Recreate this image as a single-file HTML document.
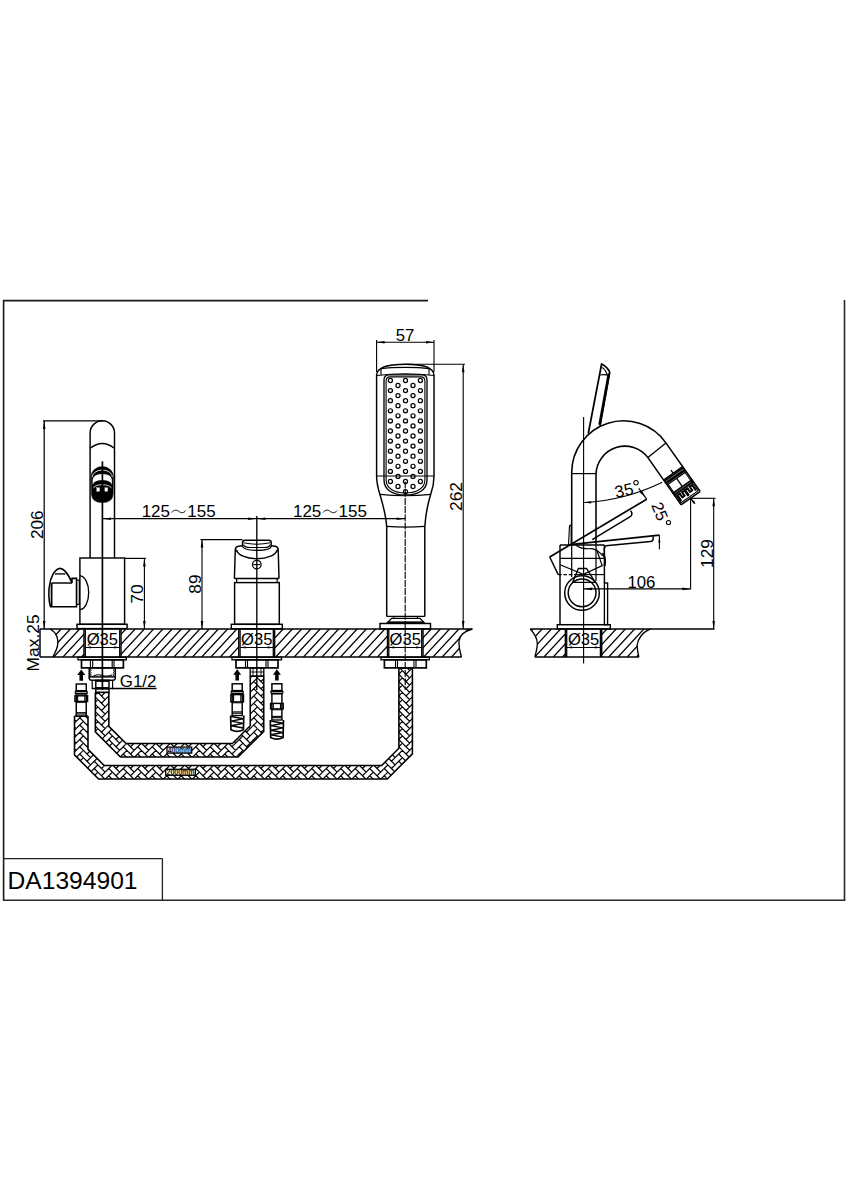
<!DOCTYPE html>
<html><head><meta charset="utf-8"><title>DA1394901</title><style>html,body{margin:0;padding:0;background:#fff;}body{width:848px;height:1200px;overflow:hidden;font-family:"Liberation Sans",sans-serif;}svg{display:block;}text{font-family:"Liberation Sans",sans-serif;}</style></head><body>
<svg width="848" height="1200" viewBox="0 0 848 1200" font-family="Liberation Sans, sans-serif" fill="#000"><defs><clipPath id="ct1"><path d="M50.4,629 C57,633 59,640 57.5,646 C56.5,651 54,654 53,657 L461.5,657 C460,652 458.6,647 459,641 C459.5,635 465,631 472.4,629 Z"/></clipPath>
<mask id="m1"><rect x="0" y="0" width="848" height="1200" fill="#fff"/><rect x="84" y="629.0" width="37" height="28.0" fill="#000"/><rect x="238.8" y="629.0" width="35.8" height="28.0" fill="#000"/><rect x="387.5" y="629.0" width="35.5" height="28.0" fill="#000"/></mask>
<clipPath id="ct2"><path d="M530.2,629 C534,633 537,638 537.3,643 C537.5,648 536,652 534.9,657 L638.9,657 C638,653 637,649 637.2,645 C637.5,640 642,632 650.4,629 Z"/></clipPath>
<mask id="m2"><rect x="0" y="0" width="848" height="1200" fill="#fff"/><rect x="565.4" y="629.0" width="36.3" height="28.0" fill="#000"/></mask>
<clipPath id="hs1"><path d="M95.35,692.4 L95.35,731.9 L108.85,726.3 L108.85,692.4 Z"/></clipPath>
<clipPath id="hs2"><path d="M95.35,731.9 L120.45,757 L126.05,743.5 L108.85,726.3 Z"/></clipPath>
<clipPath id="hs3"><path d="M120.45,757 L238.05,757 L232.45,743.5 L126.05,743.5 Z"/></clipPath>
<clipPath id="hs4"><path d="M238.05,757 L263.75,731.3 L250.25,725.7 L232.45,743.5 Z"/></clipPath>
<clipPath id="hs5"><path d="M263.75,731.3 L263.75,676.2 L250.25,676.2 L250.25,725.7 Z"/></clipPath>
<clipPath id="hs6"><path d="M74.5,716 L74.5,754.9 L88,749.3 L88,716 Z"/></clipPath>
<clipPath id="hs7"><path d="M74.5,754.9 L98.55,778.95 L104.15,765.45 L88,749.3 Z"/></clipPath>
<clipPath id="hs8"><path d="M98.55,778.95 L387.3,778.95 L381.7,765.45 L104.15,765.45 Z"/></clipPath>
<clipPath id="hs9"><path d="M387.3,778.95 L412.4,753.85 L398.9,748.25 L381.7,765.45 Z"/></clipPath>
<clipPath id="hs10"><path d="M412.4,753.85 L412.4,668.2 L398.9,668.2 L398.9,748.25 Z"/></clipPath></defs>
<line x1="3" y1="300.6" x2="428" y2="300.6" stroke="#1a1a1a" stroke-width="1.6" />
<line x1="3.6" y1="300" x2="3.6" y2="900.8" stroke="#1a1a1a" stroke-width="1.6" />
<line x1="3" y1="900.2" x2="845.3" y2="900.2" stroke="#2a2a2a" stroke-width="1.6" />
<line x1="844.5" y1="300" x2="844.5" y2="900.8" stroke="#2a2a2a" stroke-width="1.6" />
<line x1="3" y1="858.6" x2="162.6" y2="858.6" stroke="#222" stroke-width="1.3" />
<line x1="162.4" y1="858.6" x2="162.4" y2="900.5" stroke="#222" stroke-width="1.3" />
<text x="7.6" y="888.5" font-size="24.6" text-anchor="start" >DA1394901</text>
<g clip-path="url(#ct1)" mask="url(#m1)"><path d="M-1.75,657 L24.09,629 M7.5,657 L33.34,629 M16.75,657 L42.59,629 M26,657 L51.84,629 M35.25,657 L61.09,629 M44.5,657 L70.34,629 M53.75,657 L79.59,629 M63,657 L88.84,629 M72.25,657 L98.09,629 M81.5,657 L107.34,629 M90.75,657 L116.59,629 M100,657 L125.84,629 M109.25,657 L135.09,629 M118.5,657 L144.34,629 M127.75,657 L153.59,629 M137,657 L162.84,629 M146.25,657 L172.09,629 M155.5,657 L181.34,629 M164.75,657 L190.59,629 M174,657 L199.84,629 M183.25,657 L209.09,629 M192.5,657 L218.34,629 M201.75,657 L227.59,629 M211,657 L236.84,629 M220.25,657 L246.09,629 M229.5,657 L255.34,629 M238.75,657 L264.59,629 M248,657 L273.84,629 M257.25,657 L283.09,629 M266.5,657 L292.34,629 M275.75,657 L301.59,629 M285,657 L310.84,629 M294.25,657 L320.09,629 M303.5,657 L329.34,629 M312.75,657 L338.59,629 M322,657 L347.84,629 M331.25,657 L357.09,629 M340.5,657 L366.34,629 M349.75,657 L375.59,629 M359,657 L384.84,629 M368.25,657 L394.09,629 M377.5,657 L403.34,629 M386.75,657 L412.59,629 M396,657 L421.84,629 M405.25,657 L431.09,629 M414.5,657 L440.34,629 M423.75,657 L449.59,629 M433,657 L458.84,629 M442.25,657 L468.09,629 M451.5,657 L477.34,629 M460.75,657 L486.59,629 M470,657 L495.84,629 M479.25,657 L505.09,629 M488.5,657 L514.34,629 M497.75,657 L523.59,629" stroke="#000" stroke-width="1.25" fill="none"/></g>
<line x1="40" y1="629" x2="472.4" y2="629" stroke="#000" stroke-width="1.57" />
<line x1="40" y1="657" x2="461.5" y2="657" stroke="#000" stroke-width="1.57" />
<line x1="40" y1="629" x2="40" y2="657" stroke="#000" stroke-width="1.46" />
<path d="M50.4,629 C57,633 59,640 57.5,646 C56.5,651 54,654 53,657" fill="none" stroke="#000" stroke-width="1.34" />
<path d="M472.4,629 C465,631 459.5,635 459,641 C458.6,647 460,652 461.5,657" fill="none" stroke="#000" stroke-width="1.34" />
<line x1="84" y1="629" x2="84" y2="657" stroke="#000" stroke-width="1.46" />
<line x1="121" y1="629" x2="121" y2="657" stroke="#000" stroke-width="1.46" />
<line x1="238.8" y1="629" x2="238.8" y2="657" stroke="#000" stroke-width="1.46" />
<line x1="274.6" y1="629" x2="274.6" y2="657" stroke="#000" stroke-width="1.46" />
<line x1="387.5" y1="629" x2="387.5" y2="657" stroke="#000" stroke-width="1.46" />
<line x1="423" y1="629" x2="423" y2="657" stroke="#000" stroke-width="1.46" />
<g clip-path="url(#ct2)" mask="url(#m2)"><path d="M479.25,657 L505.09,629 M488.5,657 L514.34,629 M497.75,657 L523.59,629 M507,657 L532.84,629 M516.25,657 L542.09,629 M525.5,657 L551.34,629 M534.75,657 L560.59,629 M544,657 L569.84,629 M553.25,657 L579.09,629 M562.5,657 L588.34,629 M571.75,657 L597.59,629 M581,657 L606.84,629 M590.25,657 L616.09,629 M599.5,657 L625.34,629 M608.75,657 L634.59,629 M618,657 L643.84,629 M627.25,657 L653.09,629 M636.5,657 L662.34,629 M645.75,657 L671.59,629 M655,657 L680.84,629 M664.25,657 L690.09,629 M673.5,657 L699.34,629" stroke="#000" stroke-width="1.25" fill="none"/></g>
<line x1="530.2" y1="629" x2="714.5" y2="629" stroke="#000" stroke-width="1.46" />
<line x1="534.9" y1="657" x2="638.9" y2="657" stroke="#000" stroke-width="1.46" />
<path d="M530.2,629 C534,633 537,638 537.3,643 C537.5,648 536,652 534.9,657" fill="none" stroke="#000" stroke-width="1.34" />
<path d="M650.4,629 C642,632 637.5,640 637.2,645 C637,649 638,653 638.9,657" fill="none" stroke="#000" stroke-width="1.34" />
<line x1="565.4" y1="629" x2="565.4" y2="657" stroke="#000" stroke-width="1.46" />
<line x1="601.7" y1="629" x2="601.7" y2="657" stroke="#000" stroke-width="1.46" />
<line x1="85.3" y1="629" x2="85.3" y2="657" stroke="#000" stroke-width="1.29" />
<line x1="119.7" y1="629" x2="119.7" y2="657" stroke="#000" stroke-width="1.29" />
<text x="102.4" y="644.6" font-size="16.6" text-anchor="middle" >&#216;35</text>
<line x1="85.3" y1="647.4" x2="119.7" y2="647.4" stroke="#000" stroke-width="1.01" />
<path d="M85.8,647.4 L90.8,646.3 L90.8,648.5 Z" fill="#000" stroke="none"/>
<path d="M119.2,647.4 L114.2,648.5 L114.2,646.3 Z" fill="#000" stroke="none"/>
<line x1="240.1" y1="629" x2="240.1" y2="657" stroke="#000" stroke-width="1.29" />
<line x1="273.3" y1="629" x2="273.3" y2="657" stroke="#000" stroke-width="1.29" />
<text x="256.8" y="644.6" font-size="16.6" text-anchor="middle" >&#216;35</text>
<line x1="240.1" y1="647.4" x2="273.3" y2="647.4" stroke="#000" stroke-width="1.01" />
<path d="M240.6,647.4 L245.6,646.3 L245.6,648.5 Z" fill="#000" stroke="none"/>
<path d="M272.8,647.4 L267.8,648.5 L267.8,646.3 Z" fill="#000" stroke="none"/>
<line x1="388.8" y1="629" x2="388.8" y2="657" stroke="#000" stroke-width="1.29" />
<line x1="421.7" y1="629" x2="421.7" y2="657" stroke="#000" stroke-width="1.29" />
<text x="405.2" y="644.6" font-size="16.6" text-anchor="middle" >&#216;35</text>
<line x1="388.8" y1="647.4" x2="421.7" y2="647.4" stroke="#000" stroke-width="1.01" />
<path d="M389.3,647.4 L394.3,646.3 L394.3,648.5 Z" fill="#000" stroke="none"/>
<path d="M421.2,647.4 L416.2,648.5 L416.2,646.3 Z" fill="#000" stroke="none"/>
<line x1="566.7" y1="629" x2="566.7" y2="657" stroke="#000" stroke-width="1.29" />
<line x1="600.4" y1="629" x2="600.4" y2="657" stroke="#000" stroke-width="1.29" />
<text x="583.6" y="644.6" font-size="16.6" text-anchor="middle" >&#216;35</text>
<line x1="566.7" y1="647.4" x2="600.4" y2="647.4" stroke="#000" stroke-width="1.01" />
<path d="M567.2,647.4 L572.2,646.3 L572.2,648.5 Z" fill="#000" stroke="none"/>
<path d="M599.9,647.4 L594.9,648.5 L594.9,646.3 Z" fill="#000" stroke="none"/>
<path d="M90.1,558 V433 A12.2,12.2 0 0 1 114.5,433 V558" fill="none" stroke="#000" stroke-width="1.46" />
<path d="M90.1,448.3 Q102.3,438.6 114.5,448.3" fill="none" stroke="#000" stroke-width="1.34" />
<path d="M91.2,476.5 A11.1,10 0 0 1 113.4,476.5 L113.1,494 Q112.8,502.6 102.3,502.6 Q91.8,502.6 91.5,494 Z" fill="#000" stroke="#000" stroke-width="0.56" />
<path d="M92.2,477.2 A10.1,7.2 0 0 1 112.4,477.2" fill="none" stroke="#fff" stroke-width="0.84" />
<path d="M92.8,479.8 Q93.5,474.2 102.3,474.0 Q111.1,474.2 111.8,479.8 L111.8,484.2 Q110.5,480.2 102.3,480.0 Q94.1,480.2 92.8,484.2 Z" fill="#fff" stroke="#fff" stroke-width="0.22" />
<path d="M93.4,488.2 Q94.5,484.9 102.3,484.7 Q110.1,484.9 111.2,488.2" fill="none" stroke="#fff" stroke-width="0.78" />
<rect x="96.8" y="487.8" width="2.8" height="3.5" fill="#fff" stroke="#fff" stroke-width="0.34"/>
<rect x="104.9" y="487.8" width="2.8" height="3.5" fill="#fff" stroke="#fff" stroke-width="0.34"/>
<line x1="102.4" y1="461.3" x2="102.4" y2="690" stroke="#000" stroke-width="1.68" />
<rect x="79.9" y="558" width="44.7" height="66.3" fill="none" stroke="#000" stroke-width="1.46"/>
<rect x="77" y="624.3" width="50.1" height="4.3" fill="none" stroke="#000" stroke-width="1.46"/>
<path d="M79.9,575.9 A8.8,16.8 0 0 1 79.9,609.5" fill="none" stroke="#000" stroke-width="1.34" />
<rect x="76.5" y="580.1" width="2.8" height="24.3" fill="none" stroke="#000" stroke-width="1.23"/>
<path d="M72,583 L72,578.4 L76.5,578.4 L76.5,606.7 L50.5,606.7 C48.5,600 48.3,590 49.7,584.6 C50.5,578 54,570 59.3,568.5 C63,567.5 68,573 72,583 Z" fill="#fff" stroke="#000" stroke-width="1.57" />
<line x1="51.6" y1="583" x2="72" y2="583" stroke="#000" stroke-width="1.46" />
<line x1="54.8" y1="573.9" x2="65.5" y2="573.9" stroke="#000" stroke-width="1.34" />
<line x1="51.6" y1="583" x2="51.6" y2="606.7" stroke="#000" stroke-width="1.79" />
<line x1="44.2" y1="421" x2="44.2" y2="629" stroke="#000" stroke-width="1.23" />
<path d="M44.2,421 L45.5,429 L42.9,429 Z" fill="#000" stroke="none"/>
<path d="M44.2,629 L42.9,621 L45.5,621 Z" fill="#000" stroke="none"/>
<line x1="43" y1="420.9" x2="103" y2="420.9" stroke="#000" stroke-width="1.23" />
<text x="43" y="524.7" font-size="17.2" text-anchor="middle" transform="rotate(-90 43 524.7)" >206</text>
<text x="38.8" y="642.9" font-size="17.4" text-anchor="middle" transform="rotate(-90 38.8 642.9)" >Max.25</text>
<line x1="124.6" y1="558.4" x2="146" y2="558.4" stroke="#000" stroke-width="1.23" />
<line x1="144.4" y1="558.4" x2="144.4" y2="629" stroke="#000" stroke-width="1.12" />
<path d="M144.4,558.4 L145.7,566.4 L143.1,566.4 Z" fill="#000" stroke="none"/>
<path d="M144.4,629 L143.1,621 L145.7,621 Z" fill="#000" stroke="none"/>
<text x="142.6" y="594" font-size="17.4" text-anchor="middle" transform="rotate(-90 142.6 594)" >70</text>
<line x1="102.4" y1="518.7" x2="405.2" y2="518.7" stroke="#000" stroke-width="1.23" />
<path d="M103,518.7 L111,517.4 L111,520 Z" fill="#000" stroke="none"/>
<path d="M256.2,518.7 L248.2,520 L248.2,517.4 Z" fill="#000" stroke="none"/>
<path d="M257.4,518.7 L265.4,517.4 L265.4,520 Z" fill="#000" stroke="none"/>
<path d="M404.6,518.7 L396.6,520 L396.6,517.4 Z" fill="#000" stroke="none"/>
<text x="170" y="516.6" font-size="17" text-anchor="end" >125</text>
<path d="M171.8,512.5 C173.9,509.5 176.9,509.7 178.8,511.3 C180.7,513.1 183.7,513.5 185.7,510.5" fill="none" stroke="#000" stroke-width="0.95" />
<text x="187.25" y="516.6" font-size="17" text-anchor="start" >155</text>
<text x="321.3" y="516.6" font-size="17" text-anchor="end" >125</text>
<path d="M323.1,512.5 C325.2,509.5 328.2,509.7 330.1,511.3 C332,513.1 335,513.5 337,510.5" fill="none" stroke="#000" stroke-width="0.95" />
<text x="338.55" y="516.6" font-size="17" text-anchor="start" >155</text>
<line x1="256.8" y1="516" x2="256.8" y2="690" stroke="#000" stroke-width="1.34" />
<path d="M242.5,546 L242.5,542.6 Q242.5,540.3 245,540.3 L268.8,540.3 Q271.2,540.3 271.2,542.6 L271.2,546" fill="none" stroke="#000" stroke-width="1.46" />
<path d="M243.6,542.8 Q257,545.6 270.2,542.8" fill="none" stroke="#000" stroke-width="1.12" />
<path d="M243.6,544.6 Q244,547.4 250,547.5 L264,547.5 Q270,547.4 270.2,544.6" fill="none" stroke="#000" stroke-width="1.23" />
<path d="M242.5,546 Q243,550.3 257,550.4 Q271,550.3 271.2,546" fill="none" stroke="#000" stroke-width="1.23" />
<path d="M234.4,578.4 L235.3,549.6 Q235.5,546.7 238.5,546.3 L242.5,545.7" fill="none" stroke="#000" stroke-width="1.46" />
<path d="M279.0,578.4 L278.2,549.6 Q278.0,546.7 275.2,546.3 L271.2,545.7" fill="none" stroke="#000" stroke-width="1.46" />
<line x1="235.6" y1="549.6" x2="237.6" y2="552.2" stroke="#000" stroke-width="1.12" />
<line x1="277.9" y1="549.6" x2="275.9" y2="552.2" stroke="#000" stroke-width="1.12" />
<path d="M236.6,549.8 A20.3,9.6 0 0 0 277.1,549.8" fill="none" stroke="#000" stroke-width="1.34" />
<circle cx="256.8" cy="564.6" r="4.3" fill="none" stroke="#000" stroke-width="1.23"/>
<line x1="253.4" y1="564.6" x2="260.2" y2="564.6" stroke="#000" stroke-width="1.12" />
<line x1="234.4" y1="578.4" x2="279" y2="578.4" stroke="#000" stroke-width="1.46" />
<line x1="236.6" y1="578.4" x2="236.6" y2="582.6" stroke="#000" stroke-width="1.23" />
<line x1="277.1" y1="578.4" x2="277.1" y2="582.6" stroke="#000" stroke-width="1.23" />
<rect x="234.6" y="582.6" width="44.7" height="41.7" fill="none" stroke="#000" stroke-width="1.46"/>
<rect x="231.3" y="624.3" width="51" height="4.5" fill="none" stroke="#000" stroke-width="1.46"/>
<line x1="200.5" y1="539.6" x2="242.5" y2="539.6" stroke="#000" stroke-width="1.12" />
<line x1="202" y1="539.6" x2="202" y2="629" stroke="#000" stroke-width="1.12" />
<path d="M202,539.6 L203.3,547.6 L200.7,547.6 Z" fill="#000" stroke="none"/>
<path d="M202,629 L200.7,621 L203.3,621 Z" fill="#000" stroke="none"/>
<text x="200.9" y="584" font-size="17.4" text-anchor="middle" transform="rotate(-90 200.9 584)" >89</text>
<path d="M386.7,616.5 L386.7,527 C386,515 382.5,503 379.8,494 C377.6,487 376.6,482 376.6,476 L376.6,375 C377,367.5 386,364.2 405.3,364.2 C424.6,364.2 433.6,367.5 434,375 L434,476 C434,482 433,488 430.8,494 C428,503 425.5,515 424.8,527 L424.8,616.5" fill="none" stroke="#000" stroke-width="1.46" />
<path d="M380,369 C386,366.8 424,366.8 430,369" fill="none" stroke="#000" stroke-width="1.12" />
<line x1="381" y1="368" x2="381" y2="375" stroke="#000" stroke-width="1.12" />
<line x1="429" y1="368" x2="429" y2="375" stroke="#000" stroke-width="1.12" />
<path d="M376.6,375.5 Q405,372 434,375.5" fill="none" stroke="#000" stroke-width="1.12" />
<path d="M384,380 Q384,374.8 389,374.8 L422,374.8 Q427,374.8 427,380 L427,480 C427,490 418,495 405.5,495 C393,495 384,490 384,480 Z" fill="none" stroke="#000" stroke-width="1.34" />
<path d="M386.1,381 Q386.1,376.9 390,376.9 L421,376.9 Q424.9,376.9 424.9,381 L424.9,480 C424.9,488 417,493 405.5,493 C394,493 386.1,488 386.1,480 Z" fill="none" stroke="#000" stroke-width="1.12" />
<line x1="376.6" y1="476" x2="434" y2="476" stroke="#000" stroke-width="1.23" />
<circle cx="390.4" cy="380.5" r="2.05" fill="none" stroke="#000" stroke-width="1.23"/>
<circle cx="390.4" cy="390.6" r="2.05" fill="none" stroke="#000" stroke-width="1.23"/>
<circle cx="390.4" cy="400.7" r="2.05" fill="none" stroke="#000" stroke-width="1.23"/>
<circle cx="390.4" cy="410.8" r="2.05" fill="none" stroke="#000" stroke-width="1.23"/>
<circle cx="390.4" cy="420.9" r="2.05" fill="none" stroke="#000" stroke-width="1.23"/>
<circle cx="390.4" cy="431" r="2.05" fill="none" stroke="#000" stroke-width="1.23"/>
<circle cx="390.4" cy="441.1" r="2.05" fill="none" stroke="#000" stroke-width="1.23"/>
<circle cx="390.4" cy="451.2" r="2.05" fill="none" stroke="#000" stroke-width="1.23"/>
<circle cx="390.4" cy="461.3" r="2.05" fill="none" stroke="#000" stroke-width="1.23"/>
<circle cx="390.4" cy="471.4" r="2.05" fill="none" stroke="#000" stroke-width="1.23"/>
<circle cx="390.4" cy="481.5" r="2.05" fill="none" stroke="#000" stroke-width="1.23"/>
<circle cx="398" cy="385.5" r="2.05" fill="none" stroke="#000" stroke-width="1.23"/>
<circle cx="398" cy="395.6" r="2.05" fill="none" stroke="#000" stroke-width="1.23"/>
<circle cx="398" cy="405.7" r="2.05" fill="none" stroke="#000" stroke-width="1.23"/>
<circle cx="398" cy="415.8" r="2.05" fill="none" stroke="#000" stroke-width="1.23"/>
<circle cx="398" cy="425.9" r="2.05" fill="none" stroke="#000" stroke-width="1.23"/>
<circle cx="398" cy="436" r="2.05" fill="none" stroke="#000" stroke-width="1.23"/>
<circle cx="398" cy="446.1" r="2.05" fill="none" stroke="#000" stroke-width="1.23"/>
<circle cx="398" cy="456.2" r="2.05" fill="none" stroke="#000" stroke-width="1.23"/>
<circle cx="398" cy="466.3" r="2.05" fill="none" stroke="#000" stroke-width="1.23"/>
<circle cx="398" cy="476.4" r="2.05" fill="none" stroke="#000" stroke-width="1.23"/>
<circle cx="398" cy="486.5" r="2.05" fill="none" stroke="#000" stroke-width="1.23"/>
<circle cx="405.5" cy="380.5" r="2.05" fill="none" stroke="#000" stroke-width="1.23"/>
<circle cx="405.5" cy="390.6" r="2.05" fill="none" stroke="#000" stroke-width="1.23"/>
<circle cx="405.5" cy="400.7" r="2.05" fill="none" stroke="#000" stroke-width="1.23"/>
<circle cx="405.5" cy="410.8" r="2.05" fill="none" stroke="#000" stroke-width="1.23"/>
<circle cx="405.5" cy="420.9" r="2.05" fill="none" stroke="#000" stroke-width="1.23"/>
<circle cx="405.5" cy="431" r="2.05" fill="none" stroke="#000" stroke-width="1.23"/>
<circle cx="405.5" cy="441.1" r="2.05" fill="none" stroke="#000" stroke-width="1.23"/>
<circle cx="405.5" cy="451.2" r="2.05" fill="none" stroke="#000" stroke-width="1.23"/>
<circle cx="405.5" cy="461.3" r="2.05" fill="none" stroke="#000" stroke-width="1.23"/>
<circle cx="405.5" cy="471.4" r="2.05" fill="none" stroke="#000" stroke-width="1.23"/>
<circle cx="405.5" cy="481.5" r="2.05" fill="none" stroke="#000" stroke-width="1.23"/>
<circle cx="405.5" cy="491.6" r="2.05" fill="none" stroke="#000" stroke-width="1.23"/>
<circle cx="413" cy="385.5" r="2.05" fill="none" stroke="#000" stroke-width="1.23"/>
<circle cx="413" cy="395.6" r="2.05" fill="none" stroke="#000" stroke-width="1.23"/>
<circle cx="413" cy="405.7" r="2.05" fill="none" stroke="#000" stroke-width="1.23"/>
<circle cx="413" cy="415.8" r="2.05" fill="none" stroke="#000" stroke-width="1.23"/>
<circle cx="413" cy="425.9" r="2.05" fill="none" stroke="#000" stroke-width="1.23"/>
<circle cx="413" cy="436" r="2.05" fill="none" stroke="#000" stroke-width="1.23"/>
<circle cx="413" cy="446.1" r="2.05" fill="none" stroke="#000" stroke-width="1.23"/>
<circle cx="413" cy="456.2" r="2.05" fill="none" stroke="#000" stroke-width="1.23"/>
<circle cx="413" cy="466.3" r="2.05" fill="none" stroke="#000" stroke-width="1.23"/>
<circle cx="413" cy="476.4" r="2.05" fill="none" stroke="#000" stroke-width="1.23"/>
<circle cx="413" cy="486.5" r="2.05" fill="none" stroke="#000" stroke-width="1.23"/>
<circle cx="420.4" cy="380.5" r="2.05" fill="none" stroke="#000" stroke-width="1.23"/>
<circle cx="420.4" cy="390.6" r="2.05" fill="none" stroke="#000" stroke-width="1.23"/>
<circle cx="420.4" cy="400.7" r="2.05" fill="none" stroke="#000" stroke-width="1.23"/>
<circle cx="420.4" cy="410.8" r="2.05" fill="none" stroke="#000" stroke-width="1.23"/>
<circle cx="420.4" cy="420.9" r="2.05" fill="none" stroke="#000" stroke-width="1.23"/>
<circle cx="420.4" cy="431" r="2.05" fill="none" stroke="#000" stroke-width="1.23"/>
<circle cx="420.4" cy="441.1" r="2.05" fill="none" stroke="#000" stroke-width="1.23"/>
<circle cx="420.4" cy="451.2" r="2.05" fill="none" stroke="#000" stroke-width="1.23"/>
<circle cx="420.4" cy="461.3" r="2.05" fill="none" stroke="#000" stroke-width="1.23"/>
<circle cx="420.4" cy="471.4" r="2.05" fill="none" stroke="#000" stroke-width="1.23"/>
<circle cx="420.4" cy="481.5" r="2.05" fill="none" stroke="#000" stroke-width="1.23"/>
<path d="M379.8,494.3 Q405.3,497.2 430.8,494.3" fill="none" stroke="#000" stroke-width="1.23" />
<path d="M386.7,526.4 Q405.7,528 424.8,526.4" fill="none" stroke="#000" stroke-width="1.23" />
<line x1="386.7" y1="616.3" x2="424.8" y2="616.3" stroke="#000" stroke-width="1.34" />
<path d="M393.8,616.3 L393.8,618.2 M417.5,616.3 L417.5,618.2" fill="none" stroke="#000" stroke-width="1.12" />
<path d="M391.6,618.3 L420.0,618.3 L423.8,622.4 L387.7,622.4 Z" fill="none" stroke="#000" stroke-width="1.34" />
<line x1="387.7" y1="622.6" x2="423.8" y2="622.6" stroke="#000" stroke-width="2.24" />
<rect x="380" y="623.5" width="50.5" height="5.3" fill="none" stroke="#000" stroke-width="1.46"/>
<line x1="405.2" y1="481.5" x2="405.2" y2="690" stroke="#000" stroke-width="1.12" stroke-dasharray="7 1.2"/>
<line x1="376.6" y1="340" x2="376.6" y2="372" stroke="#000" stroke-width="1.12" />
<line x1="434" y1="340" x2="434" y2="372" stroke="#000" stroke-width="1.12" />
<line x1="376.6" y1="342.2" x2="434" y2="342.2" stroke="#000" stroke-width="1.12" />
<path d="M376.6,342.2 L384.6,340.9 L384.6,343.5 Z" fill="#000" stroke="none"/>
<path d="M434,342.2 L426,343.5 L426,340.9 Z" fill="#000" stroke="none"/>
<text x="405" y="341" font-size="16.8" text-anchor="middle" >57</text>
<line x1="405" y1="364.3" x2="465" y2="364.3" stroke="#000" stroke-width="1.12" />
<line x1="463.2" y1="364.3" x2="463.2" y2="629" stroke="#000" stroke-width="1.12" />
<path d="M463.2,364.3 L464.5,372.3 L461.9,372.3 Z" fill="#000" stroke="none"/>
<path d="M463.2,629 L461.9,621 L464.5,621 Z" fill="#000" stroke="none"/>
<text x="462.1" y="496.5" font-size="17.4" text-anchor="middle" transform="rotate(-90 462.1 496.5)" >262</text>
<g clip-path="url(#hs1)"><path d="M90.62,743.12 L94.25,739.5 M90.62,735.88 L94.25,732.25 M94.25,732.25 L97.88,735.88 M94.25,739.5 L97.88,735.88 M97.88,735.88 L101.5,739.5 M90.62,728.62 L94.25,725 M94.25,725 L97.88,728.62 M94.25,732.25 L97.88,728.62 M97.88,728.62 L101.5,732.25 M101.5,732.25 L105.12,735.88 M101.5,739.5 L105.12,735.88 M105.12,743.12 L108.75,739.5 M90.62,721.38 L94.25,717.75 M94.25,717.75 L97.88,721.38 M94.25,725 L97.88,721.38 M97.88,721.38 L101.5,725 M101.5,725 L105.12,728.62 M101.5,732.25 L105.12,728.62 M105.12,735.88 L108.75,732.25 M108.75,732.25 L112.38,735.88 M108.75,739.5 L112.38,735.88 M112.38,735.88 L116,739.5 M90.62,714.12 L94.25,710.5 M94.25,710.5 L97.88,714.12 M94.25,717.75 L97.88,714.12 M97.88,714.12 L101.5,717.75 M101.5,717.75 L105.12,721.38 M101.5,725 L105.12,721.38 M105.12,728.62 L108.75,725 M108.75,725 L112.38,728.62 M108.75,732.25 L112.38,728.62 M112.38,728.62 L116,732.25 M116,732.25 L119.62,735.88 M116,739.5 L119.62,735.88 M90.62,706.88 L94.25,703.25 M94.25,703.25 L97.88,706.88 M94.25,710.5 L97.88,706.88 M97.88,706.88 L101.5,710.5 M101.5,710.5 L105.12,714.12 M101.5,717.75 L105.12,714.12 M105.12,721.38 L108.75,717.75 M108.75,717.75 L112.38,721.38 M108.75,725 L112.38,721.38 M112.38,721.38 L116,725 M116,725 L119.62,728.62 M116,732.25 L119.62,728.62 M90.62,699.62 L94.25,696 M94.25,696 L97.88,699.62 M94.25,703.25 L97.88,699.62 M97.88,699.62 L101.5,703.25 M101.5,703.25 L105.12,706.88 M101.5,710.5 L105.12,706.88 M105.12,714.12 L108.75,710.5 M108.75,710.5 L112.38,714.12 M108.75,717.75 L112.38,714.12 M112.38,714.12 L116,717.75 M116,717.75 L119.62,721.38 M116,725 L119.62,721.38 M90.62,692.38 L94.25,688.75 M94.25,688.75 L97.88,692.38 M94.25,696 L97.88,692.38 M97.88,692.38 L101.5,696 M101.5,696 L105.12,699.62 M101.5,703.25 L105.12,699.62 M105.12,706.88 L108.75,703.25 M108.75,703.25 L112.38,706.88 M108.75,710.5 L112.38,706.88 M112.38,706.88 L116,710.5 M116,710.5 L119.62,714.12 M116,717.75 L119.62,714.12 M94.25,681.5 L97.88,685.12 M94.25,688.75 L97.88,685.12 M97.88,685.12 L101.5,688.75 M101.5,688.75 L105.12,692.38 M101.5,696 L105.12,692.38 M105.12,699.62 L108.75,696 M108.75,696 L112.38,699.62 M108.75,703.25 L112.38,699.62 M112.38,699.62 L116,703.25 M116,703.25 L119.62,706.88 M116,710.5 L119.62,706.88 M101.5,681.5 L105.12,685.12 M101.5,688.75 L105.12,685.12 M105.12,692.38 L108.75,688.75 M108.75,688.75 L112.38,692.38 M108.75,696 L112.38,692.38 M112.38,692.38 L116,696 M116,696 L119.62,699.62 M116,703.25 L119.62,699.62 M108.75,681.5 L112.38,685.12 M108.75,688.75 L112.38,685.12 M112.38,685.12 L116,688.75 M116,688.75 L119.62,692.38 M116,696 L119.62,692.38 M116,681.5 L119.62,685.12 M116,688.75 L119.62,685.12" stroke="#000" stroke-width="1.2" fill="none"/></g>
<g clip-path="url(#hs2)"><path d="M90.62,764.88 L94.25,761.25 M94.25,761.25 L97.88,764.88 M94.25,768.5 L97.88,764.88 M90.62,757.62 L94.25,754 M94.25,754 L97.88,757.62 M94.25,761.25 L97.88,757.62 M97.88,757.62 L101.5,761.25 M101.5,761.25 L105.12,764.88 M101.5,768.5 L105.12,764.88 M90.62,750.38 L94.25,746.75 M94.25,746.75 L97.88,750.38 M94.25,754 L97.88,750.38 M97.88,750.38 L101.5,754 M101.5,754 L105.12,757.62 M101.5,761.25 L105.12,757.62 M105.12,764.88 L108.75,761.25 M108.75,761.25 L112.38,764.88 M108.75,768.5 L112.38,764.88 M90.62,743.12 L94.25,739.5 M94.25,739.5 L97.88,743.12 M94.25,746.75 L97.88,743.12 M97.88,743.12 L101.5,746.75 M101.5,746.75 L105.12,750.38 M101.5,754 L105.12,750.38 M105.12,757.62 L108.75,754 M108.75,754 L112.38,757.62 M108.75,761.25 L112.38,757.62 M112.38,757.62 L116,761.25 M116,761.25 L119.62,764.88 M116,768.5 L119.62,764.88 M90.62,735.88 L94.25,732.25 M94.25,732.25 L97.88,735.88 M94.25,739.5 L97.88,735.88 M97.88,735.88 L101.5,739.5 M101.5,739.5 L105.12,743.12 M101.5,746.75 L105.12,743.12 M105.12,750.38 L108.75,746.75 M108.75,746.75 L112.38,750.38 M108.75,754 L112.38,750.38 M112.38,750.38 L116,754 M116,754 L119.62,757.62 M116,761.25 L119.62,757.62 M119.62,764.88 L123.25,761.25 M123.25,761.25 L126.88,764.88 M123.25,768.5 L126.88,764.88 M90.62,728.62 L94.25,725 M94.25,725 L97.88,728.62 M94.25,732.25 L97.88,728.62 M97.88,728.62 L101.5,732.25 M101.5,732.25 L105.12,735.88 M101.5,739.5 L105.12,735.88 M105.12,743.12 L108.75,739.5 M108.75,739.5 L112.38,743.12 M108.75,746.75 L112.38,743.12 M112.38,743.12 L116,746.75 M116,746.75 L119.62,750.38 M116,754 L119.62,750.38 M119.62,757.62 L123.25,754 M123.25,754 L126.88,757.62 M123.25,761.25 L126.88,757.62 M126.88,757.62 L130.5,761.25 M130.5,761.25 L134.12,764.88 M130.5,768.5 L134.12,764.88 M94.25,717.75 L97.88,721.38 M94.25,725 L97.88,721.38 M97.88,721.38 L101.5,725 M101.5,725 L105.12,728.62 M101.5,732.25 L105.12,728.62 M105.12,735.88 L108.75,732.25 M108.75,732.25 L112.38,735.88 M108.75,739.5 L112.38,735.88 M112.38,735.88 L116,739.5 M116,739.5 L119.62,743.12 M116,746.75 L119.62,743.12 M119.62,750.38 L123.25,746.75 M123.25,746.75 L126.88,750.38 M123.25,754 L126.88,750.38 M126.88,750.38 L130.5,754 M130.5,754 L134.12,757.62 M130.5,761.25 L134.12,757.62 M101.5,717.75 L105.12,721.38 M101.5,725 L105.12,721.38 M105.12,728.62 L108.75,725 M108.75,725 L112.38,728.62 M108.75,732.25 L112.38,728.62 M112.38,728.62 L116,732.25 M116,732.25 L119.62,735.88 M116,739.5 L119.62,735.88 M119.62,743.12 L123.25,739.5 M123.25,739.5 L126.88,743.12 M123.25,746.75 L126.88,743.12 M126.88,743.12 L130.5,746.75 M130.5,746.75 L134.12,750.38 M130.5,754 L134.12,750.38 M108.75,717.75 L112.38,721.38 M108.75,725 L112.38,721.38 M112.38,721.38 L116,725 M116,725 L119.62,728.62 M116,732.25 L119.62,728.62 M119.62,735.88 L123.25,732.25 M123.25,732.25 L126.88,735.88 M123.25,739.5 L126.88,735.88 M126.88,735.88 L130.5,739.5 M130.5,739.5 L134.12,743.12 M130.5,746.75 L134.12,743.12 M116,717.75 L119.62,721.38 M116,725 L119.62,721.38 M119.62,728.62 L123.25,725 M123.25,725 L126.88,728.62 M123.25,732.25 L126.88,728.62 M126.88,728.62 L130.5,732.25 M130.5,732.25 L134.12,735.88 M130.5,739.5 L134.12,735.88 M123.25,717.75 L126.88,721.38 M123.25,725 L126.88,721.38 M126.88,721.38 L130.5,725 M130.5,725 L134.12,728.62 M130.5,732.25 L134.12,728.62 M130.5,717.75 L134.12,721.38 M130.5,725 L134.12,721.38" stroke="#000" stroke-width="1.2" fill="none"/></g>
<g clip-path="url(#hs3)"><path d="M116,761.25 L119.62,764.88 M116,768.5 L119.62,764.88 M116,754 L119.62,757.62 M116,761.25 L119.62,757.62 M119.62,764.88 L123.25,761.25 M123.25,761.25 L126.88,764.88 M123.25,768.5 L126.88,764.88 M116,746.75 L119.62,750.38 M116,754 L119.62,750.38 M119.62,757.62 L123.25,754 M123.25,754 L126.88,757.62 M123.25,761.25 L126.88,757.62 M126.88,757.62 L130.5,761.25 M130.5,761.25 L134.12,764.88 M130.5,768.5 L134.12,764.88 M116,739.5 L119.62,743.12 M116,746.75 L119.62,743.12 M119.62,750.38 L123.25,746.75 M123.25,746.75 L126.88,750.38 M123.25,754 L126.88,750.38 M126.88,750.38 L130.5,754 M130.5,754 L134.12,757.62 M130.5,761.25 L134.12,757.62 M134.12,764.88 L137.75,761.25 M137.75,761.25 L141.38,764.88 M137.75,768.5 L141.38,764.88 M116,732.25 L119.62,735.88 M116,739.5 L119.62,735.88 M119.62,743.12 L123.25,739.5 M123.25,739.5 L126.88,743.12 M123.25,746.75 L126.88,743.12 M126.88,743.12 L130.5,746.75 M130.5,746.75 L134.12,750.38 M130.5,754 L134.12,750.38 M134.12,757.62 L137.75,754 M137.75,754 L141.38,757.62 M137.75,761.25 L141.38,757.62 M141.38,757.62 L145,761.25 M145,761.25 L148.62,764.88 M145,768.5 L148.62,764.88 M123.25,732.25 L126.88,735.88 M123.25,739.5 L126.88,735.88 M126.88,735.88 L130.5,739.5 M130.5,739.5 L134.12,743.12 M130.5,746.75 L134.12,743.12 M134.12,750.38 L137.75,746.75 M137.75,746.75 L141.38,750.38 M137.75,754 L141.38,750.38 M141.38,750.38 L145,754 M145,754 L148.62,757.62 M145,761.25 L148.62,757.62 M148.62,764.88 L152.25,761.25 M152.25,761.25 L155.88,764.88 M152.25,768.5 L155.88,764.88 M130.5,732.25 L134.12,735.88 M130.5,739.5 L134.12,735.88 M134.12,743.12 L137.75,739.5 M137.75,739.5 L141.38,743.12 M137.75,746.75 L141.38,743.12 M141.38,743.12 L145,746.75 M145,746.75 L148.62,750.38 M145,754 L148.62,750.38 M148.62,757.62 L152.25,754 M152.25,754 L155.88,757.62 M152.25,761.25 L155.88,757.62 M155.88,757.62 L159.5,761.25 M159.5,761.25 L163.12,764.88 M159.5,768.5 L163.12,764.88 M137.75,732.25 L141.38,735.88 M137.75,739.5 L141.38,735.88 M141.38,735.88 L145,739.5 M145,739.5 L148.62,743.12 M145,746.75 L148.62,743.12 M148.62,750.38 L152.25,746.75 M152.25,746.75 L155.88,750.38 M152.25,754 L155.88,750.38 M155.88,750.38 L159.5,754 M159.5,754 L163.12,757.62 M159.5,761.25 L163.12,757.62 M163.12,764.88 L166.75,761.25 M166.75,761.25 L170.38,764.88 M166.75,768.5 L170.38,764.88 M145,732.25 L148.62,735.88 M145,739.5 L148.62,735.88 M148.62,743.12 L152.25,739.5 M152.25,739.5 L155.88,743.12 M152.25,746.75 L155.88,743.12 M155.88,743.12 L159.5,746.75 M159.5,746.75 L163.12,750.38 M159.5,754 L163.12,750.38 M163.12,757.62 L166.75,754 M166.75,754 L170.38,757.62 M166.75,761.25 L170.38,757.62 M170.38,757.62 L174,761.25 M174,761.25 L177.62,764.88 M174,768.5 L177.62,764.88 M152.25,732.25 L155.88,735.88 M152.25,739.5 L155.88,735.88 M155.88,735.88 L159.5,739.5 M159.5,739.5 L163.12,743.12 M159.5,746.75 L163.12,743.12 M163.12,750.38 L166.75,746.75 M166.75,746.75 L170.38,750.38 M166.75,754 L170.38,750.38 M170.38,750.38 L174,754 M174,754 L177.62,757.62 M174,761.25 L177.62,757.62 M177.62,764.88 L181.25,761.25 M181.25,761.25 L184.88,764.88 M181.25,768.5 L184.88,764.88 M159.5,732.25 L163.12,735.88 M159.5,739.5 L163.12,735.88 M163.12,743.12 L166.75,739.5 M166.75,739.5 L170.38,743.12 M166.75,746.75 L170.38,743.12 M170.38,743.12 L174,746.75 M174,746.75 L177.62,750.38 M174,754 L177.62,750.38 M177.62,757.62 L181.25,754 M181.25,754 L184.88,757.62 M181.25,761.25 L184.88,757.62 M184.88,757.62 L188.5,761.25 M188.5,761.25 L192.12,764.88 M188.5,768.5 L192.12,764.88 M166.75,732.25 L170.38,735.88 M166.75,739.5 L170.38,735.88 M170.38,735.88 L174,739.5 M174,739.5 L177.62,743.12 M174,746.75 L177.62,743.12 M177.62,750.38 L181.25,746.75 M181.25,746.75 L184.88,750.38 M181.25,754 L184.88,750.38 M184.88,750.38 L188.5,754 M188.5,754 L192.12,757.62 M188.5,761.25 L192.12,757.62 M192.12,764.88 L195.75,761.25 M195.75,761.25 L199.38,764.88 M195.75,768.5 L199.38,764.88 M174,732.25 L177.62,735.88 M174,739.5 L177.62,735.88 M177.62,743.12 L181.25,739.5 M181.25,739.5 L184.88,743.12 M181.25,746.75 L184.88,743.12 M184.88,743.12 L188.5,746.75 M188.5,746.75 L192.12,750.38 M188.5,754 L192.12,750.38 M192.12,757.62 L195.75,754 M195.75,754 L199.38,757.62 M195.75,761.25 L199.38,757.62 M199.38,757.62 L203,761.25 M203,761.25 L206.62,764.88 M203,768.5 L206.62,764.88 M181.25,732.25 L184.88,735.88 M181.25,739.5 L184.88,735.88 M184.88,735.88 L188.5,739.5 M188.5,739.5 L192.12,743.12 M188.5,746.75 L192.12,743.12 M192.12,750.38 L195.75,746.75 M195.75,746.75 L199.38,750.38 M195.75,754 L199.38,750.38 M199.38,750.38 L203,754 M203,754 L206.62,757.62 M203,761.25 L206.62,757.62 M206.62,764.88 L210.25,761.25 M210.25,761.25 L213.88,764.88 M210.25,768.5 L213.88,764.88 M188.5,732.25 L192.12,735.88 M188.5,739.5 L192.12,735.88 M192.12,743.12 L195.75,739.5 M195.75,739.5 L199.38,743.12 M195.75,746.75 L199.38,743.12 M199.38,743.12 L203,746.75 M203,746.75 L206.62,750.38 M203,754 L206.62,750.38 M206.62,757.62 L210.25,754 M210.25,754 L213.88,757.62 M210.25,761.25 L213.88,757.62 M213.88,757.62 L217.5,761.25 M217.5,761.25 L221.12,764.88 M217.5,768.5 L221.12,764.88 M195.75,732.25 L199.38,735.88 M195.75,739.5 L199.38,735.88 M199.38,735.88 L203,739.5 M203,739.5 L206.62,743.12 M203,746.75 L206.62,743.12 M206.62,750.38 L210.25,746.75 M210.25,746.75 L213.88,750.38 M210.25,754 L213.88,750.38 M213.88,750.38 L217.5,754 M217.5,754 L221.12,757.62 M217.5,761.25 L221.12,757.62 M221.12,764.88 L224.75,761.25 M224.75,761.25 L228.38,764.88 M224.75,768.5 L228.38,764.88 M203,732.25 L206.62,735.88 M203,739.5 L206.62,735.88 M206.62,743.12 L210.25,739.5 M210.25,739.5 L213.88,743.12 M210.25,746.75 L213.88,743.12 M213.88,743.12 L217.5,746.75 M217.5,746.75 L221.12,750.38 M217.5,754 L221.12,750.38 M221.12,757.62 L224.75,754 M224.75,754 L228.38,757.62 M224.75,761.25 L228.38,757.62 M228.38,757.62 L232,761.25 M232,761.25 L235.62,764.88 M232,768.5 L235.62,764.88 M210.25,732.25 L213.88,735.88 M210.25,739.5 L213.88,735.88 M213.88,735.88 L217.5,739.5 M217.5,739.5 L221.12,743.12 M217.5,746.75 L221.12,743.12 M221.12,750.38 L224.75,746.75 M224.75,746.75 L228.38,750.38 M224.75,754 L228.38,750.38 M228.38,750.38 L232,754 M232,754 L235.62,757.62 M232,761.25 L235.62,757.62 M235.62,764.88 L239.25,761.25 M239.25,761.25 L242.88,764.88 M239.25,768.5 L242.88,764.88 M217.5,732.25 L221.12,735.88 M217.5,739.5 L221.12,735.88 M221.12,743.12 L224.75,739.5 M224.75,739.5 L228.38,743.12 M224.75,746.75 L228.38,743.12 M228.38,743.12 L232,746.75 M232,746.75 L235.62,750.38 M232,754 L235.62,750.38 M235.62,757.62 L239.25,754 M239.25,754 L242.88,757.62 M239.25,761.25 L242.88,757.62 M242.88,757.62 L246.5,761.25 M224.75,732.25 L228.38,735.88 M224.75,739.5 L228.38,735.88 M228.38,735.88 L232,739.5 M232,739.5 L235.62,743.12 M232,746.75 L235.62,743.12 M235.62,750.38 L239.25,746.75 M239.25,746.75 L242.88,750.38 M239.25,754 L242.88,750.38 M242.88,750.38 L246.5,754 M232,732.25 L235.62,735.88 M232,739.5 L235.62,735.88 M235.62,743.12 L239.25,739.5 M239.25,739.5 L242.88,743.12 M239.25,746.75 L242.88,743.12 M242.88,743.12 L246.5,746.75 M239.25,732.25 L242.88,735.88 M239.25,739.5 L242.88,735.88 M242.88,735.88 L246.5,739.5" stroke="#000" stroke-width="1.2" fill="none"/></g>
<g clip-path="url(#hs4)"><path d="M224.75,761.25 L228.38,764.88 M224.75,768.5 L228.38,764.88 M224.75,754 L228.38,757.62 M224.75,761.25 L228.38,757.62 M228.38,757.62 L232,761.25 M232,761.25 L235.62,764.88 M232,768.5 L235.62,764.88 M224.75,746.75 L228.38,750.38 M224.75,754 L228.38,750.38 M228.38,750.38 L232,754 M232,754 L235.62,757.62 M232,761.25 L235.62,757.62 M235.62,764.88 L239.25,761.25 M239.25,761.25 L242.88,764.88 M239.25,768.5 L242.88,764.88 M224.75,739.5 L228.38,743.12 M224.75,746.75 L228.38,743.12 M228.38,743.12 L232,746.75 M232,746.75 L235.62,750.38 M232,754 L235.62,750.38 M235.62,757.62 L239.25,754 M239.25,754 L242.88,757.62 M239.25,761.25 L242.88,757.62 M242.88,757.62 L246.5,761.25 M246.5,761.25 L250.12,764.88 M246.5,768.5 L250.12,764.88 M224.75,732.25 L228.38,735.88 M224.75,739.5 L228.38,735.88 M228.38,735.88 L232,739.5 M232,739.5 L235.62,743.12 M232,746.75 L235.62,743.12 M235.62,750.38 L239.25,746.75 M239.25,746.75 L242.88,750.38 M239.25,754 L242.88,750.38 M242.88,750.38 L246.5,754 M246.5,754 L250.12,757.62 M246.5,761.25 L250.12,757.62 M250.12,764.88 L253.75,761.25 M253.75,761.25 L257.38,764.88 M253.75,768.5 L257.38,764.88 M224.75,725 L228.38,728.62 M224.75,732.25 L228.38,728.62 M228.38,728.62 L232,732.25 M232,732.25 L235.62,735.88 M232,739.5 L235.62,735.88 M235.62,743.12 L239.25,739.5 M239.25,739.5 L242.88,743.12 M239.25,746.75 L242.88,743.12 M242.88,743.12 L246.5,746.75 M246.5,746.75 L250.12,750.38 M246.5,754 L250.12,750.38 M250.12,757.62 L253.75,754 M253.75,754 L257.38,757.62 M253.75,761.25 L257.38,757.62 M257.38,757.62 L261,761.25 M261,761.25 L264.62,764.88 M261,768.5 L264.62,764.88 M224.75,717.75 L228.38,721.38 M224.75,725 L228.38,721.38 M228.38,721.38 L232,725 M232,725 L235.62,728.62 M232,732.25 L235.62,728.62 M235.62,735.88 L239.25,732.25 M239.25,732.25 L242.88,735.88 M239.25,739.5 L242.88,735.88 M242.88,735.88 L246.5,739.5 M246.5,739.5 L250.12,743.12 M246.5,746.75 L250.12,743.12 M250.12,750.38 L253.75,746.75 M253.75,746.75 L257.38,750.38 M253.75,754 L257.38,750.38 M257.38,750.38 L261,754 M261,754 L264.62,757.62 M261,761.25 L264.62,757.62 M264.62,764.88 L268.25,761.25 M268.25,761.25 L271.88,764.88 M268.25,768.5 L271.88,764.88 M228.38,714.12 L232,717.75 M232,717.75 L235.62,721.38 M232,725 L235.62,721.38 M235.62,728.62 L239.25,725 M239.25,725 L242.88,728.62 M239.25,732.25 L242.88,728.62 M242.88,728.62 L246.5,732.25 M246.5,732.25 L250.12,735.88 M246.5,739.5 L250.12,735.88 M250.12,743.12 L253.75,739.5 M253.75,739.5 L257.38,743.12 M253.75,746.75 L257.38,743.12 M257.38,743.12 L261,746.75 M261,746.75 L264.62,750.38 M261,754 L264.62,750.38 M264.62,757.62 L268.25,754 M268.25,754 L271.88,757.62 M268.25,761.25 L271.88,757.62 M235.62,721.38 L239.25,717.75 M239.25,717.75 L242.88,721.38 M239.25,725 L242.88,721.38 M242.88,721.38 L246.5,725 M246.5,725 L250.12,728.62 M246.5,732.25 L250.12,728.62 M250.12,735.88 L253.75,732.25 M253.75,732.25 L257.38,735.88 M253.75,739.5 L257.38,735.88 M257.38,735.88 L261,739.5 M261,739.5 L264.62,743.12 M261,746.75 L264.62,743.12 M264.62,750.38 L268.25,746.75 M268.25,746.75 L271.88,750.38 M268.25,754 L271.88,750.38 M242.88,714.12 L246.5,717.75 M246.5,717.75 L250.12,721.38 M246.5,725 L250.12,721.38 M250.12,728.62 L253.75,725 M253.75,725 L257.38,728.62 M253.75,732.25 L257.38,728.62 M257.38,728.62 L261,732.25 M261,732.25 L264.62,735.88 M261,739.5 L264.62,735.88 M264.62,743.12 L268.25,739.5 M268.25,739.5 L271.88,743.12 M268.25,746.75 L271.88,743.12 M250.12,721.38 L253.75,717.75 M253.75,717.75 L257.38,721.38 M253.75,725 L257.38,721.38 M257.38,721.38 L261,725 M261,725 L264.62,728.62 M261,732.25 L264.62,728.62 M264.62,735.88 L268.25,732.25 M268.25,732.25 L271.88,735.88 M268.25,739.5 L271.88,735.88 M257.38,714.12 L261,717.75 M261,717.75 L264.62,721.38 M261,725 L264.62,721.38 M264.62,728.62 L268.25,725 M268.25,725 L271.88,728.62 M268.25,732.25 L271.88,728.62 M264.62,721.38 L268.25,717.75 M268.25,717.75 L271.88,721.38 M268.25,725 L271.88,721.38" stroke="#000" stroke-width="1.2" fill="none"/></g>
<g clip-path="url(#hs5)"><path d="M242.88,728.62 L246.5,732.25 M246.5,732.25 L250.12,735.88 M246.5,739.5 L250.12,735.88 M242.88,721.38 L246.5,725 M246.5,725 L250.12,728.62 M246.5,732.25 L250.12,728.62 M250.12,735.88 L253.75,732.25 M253.75,732.25 L257.38,735.88 M253.75,739.5 L257.38,735.88 M242.88,714.12 L246.5,717.75 M246.5,717.75 L250.12,721.38 M246.5,725 L250.12,721.38 M250.12,728.62 L253.75,725 M253.75,725 L257.38,728.62 M253.75,732.25 L257.38,728.62 M257.38,728.62 L261,732.25 M261,732.25 L264.62,735.88 M261,739.5 L264.62,735.88 M242.88,706.88 L246.5,710.5 M246.5,710.5 L250.12,714.12 M246.5,717.75 L250.12,714.12 M250.12,721.38 L253.75,717.75 M253.75,717.75 L257.38,721.38 M253.75,725 L257.38,721.38 M257.38,721.38 L261,725 M261,725 L264.62,728.62 M261,732.25 L264.62,728.62 M264.62,735.88 L268.25,732.25 M268.25,732.25 L271.88,735.88 M268.25,739.5 L271.88,735.88 M242.88,699.62 L246.5,703.25 M246.5,703.25 L250.12,706.88 M246.5,710.5 L250.12,706.88 M250.12,714.12 L253.75,710.5 M253.75,710.5 L257.38,714.12 M253.75,717.75 L257.38,714.12 M257.38,714.12 L261,717.75 M261,717.75 L264.62,721.38 M261,725 L264.62,721.38 M264.62,728.62 L268.25,725 M268.25,725 L271.88,728.62 M268.25,732.25 L271.88,728.62 M242.88,692.38 L246.5,696 M246.5,696 L250.12,699.62 M246.5,703.25 L250.12,699.62 M250.12,706.88 L253.75,703.25 M253.75,703.25 L257.38,706.88 M253.75,710.5 L257.38,706.88 M257.38,706.88 L261,710.5 M261,710.5 L264.62,714.12 M261,717.75 L264.62,714.12 M264.62,721.38 L268.25,717.75 M268.25,717.75 L271.88,721.38 M268.25,725 L271.88,721.38 M242.88,685.12 L246.5,688.75 M246.5,688.75 L250.12,692.38 M246.5,696 L250.12,692.38 M250.12,699.62 L253.75,696 M253.75,696 L257.38,699.62 M253.75,703.25 L257.38,699.62 M257.38,699.62 L261,703.25 M261,703.25 L264.62,706.88 M261,710.5 L264.62,706.88 M264.62,714.12 L268.25,710.5 M268.25,710.5 L271.88,714.12 M268.25,717.75 L271.88,714.12 M242.88,677.88 L246.5,681.5 M246.5,681.5 L250.12,685.12 M246.5,688.75 L250.12,685.12 M250.12,692.38 L253.75,688.75 M253.75,688.75 L257.38,692.38 M253.75,696 L257.38,692.38 M257.38,692.38 L261,696 M261,696 L264.62,699.62 M261,703.25 L264.62,699.62 M264.62,706.88 L268.25,703.25 M268.25,703.25 L271.88,706.88 M268.25,710.5 L271.88,706.88 M242.88,670.62 L246.5,674.25 M246.5,674.25 L250.12,677.88 M246.5,681.5 L250.12,677.88 M250.12,685.12 L253.75,681.5 M253.75,681.5 L257.38,685.12 M253.75,688.75 L257.38,685.12 M257.38,685.12 L261,688.75 M261,688.75 L264.62,692.38 M261,696 L264.62,692.38 M264.62,699.62 L268.25,696 M268.25,696 L271.88,699.62 M268.25,703.25 L271.88,699.62 M246.5,667 L250.12,670.62 M246.5,674.25 L250.12,670.62 M250.12,677.88 L253.75,674.25 M253.75,674.25 L257.38,677.88 M253.75,681.5 L257.38,677.88 M257.38,677.88 L261,681.5 M261,681.5 L264.62,685.12 M261,688.75 L264.62,685.12 M264.62,692.38 L268.25,688.75 M268.25,688.75 L271.88,692.38 M268.25,696 L271.88,692.38 M253.75,667 L257.38,670.62 M253.75,674.25 L257.38,670.62 M257.38,670.62 L261,674.25 M261,674.25 L264.62,677.88 M261,681.5 L264.62,677.88 M264.62,685.12 L268.25,681.5 M268.25,681.5 L271.88,685.12 M268.25,688.75 L271.88,685.12 M261,667 L264.62,670.62 M261,674.25 L264.62,670.62 M264.62,677.88 L268.25,674.25 M268.25,674.25 L271.88,677.88 M268.25,681.5 L271.88,677.88 M268.25,667 L271.88,670.62 M268.25,674.25 L271.88,670.62" stroke="#000" stroke-width="1.2" fill="none"/></g>
<path d="M95.35,692.4 L95.35,731.9 L120.45,757 L238.05,757 L263.75,731.3 L263.75,676.2" fill="none" stroke="#000" stroke-width="1.57" />
<path d="M108.85,692.4 L108.85,726.3 L126.05,743.5 L232.45,743.5 L250.25,725.7 L250.25,676.2" fill="none" stroke="#000" stroke-width="1.57" />
<line x1="95.35" y1="692.4" x2="108.85" y2="692.4" stroke="#000" stroke-width="1.34" />
<line x1="263.75" y1="676.2" x2="250.25" y2="676.2" stroke="#000" stroke-width="1.34" />
<g clip-path="url(#hs6)"><path d="M68.88,757.62 L72.5,761.25 M68.88,750.38 L72.5,754 M72.5,754 L76.12,757.62 M72.5,761.25 L76.12,757.62 M76.12,764.88 L79.75,761.25 M68.88,743.12 L72.5,746.75 M72.5,746.75 L76.12,750.38 M72.5,754 L76.12,750.38 M76.12,757.62 L79.75,754 M79.75,754 L83.38,757.62 M79.75,761.25 L83.38,757.62 M83.38,757.62 L87,761.25 M68.88,735.88 L72.5,739.5 M72.5,739.5 L76.12,743.12 M72.5,746.75 L76.12,743.12 M76.12,750.38 L79.75,746.75 M79.75,746.75 L83.38,750.38 M79.75,754 L83.38,750.38 M83.38,750.38 L87,754 M87,754 L90.62,757.62 M87,761.25 L90.62,757.62 M90.62,764.88 L94.25,761.25 M68.88,728.62 L72.5,732.25 M72.5,732.25 L76.12,735.88 M72.5,739.5 L76.12,735.88 M76.12,743.12 L79.75,739.5 M79.75,739.5 L83.38,743.12 M79.75,746.75 L83.38,743.12 M83.38,743.12 L87,746.75 M87,746.75 L90.62,750.38 M87,754 L90.62,750.38 M90.62,757.62 L94.25,754 M94.25,754 L97.88,757.62 M94.25,761.25 L97.88,757.62 M68.88,721.38 L72.5,725 M72.5,725 L76.12,728.62 M72.5,732.25 L76.12,728.62 M76.12,735.88 L79.75,732.25 M79.75,732.25 L83.38,735.88 M79.75,739.5 L83.38,735.88 M83.38,735.88 L87,739.5 M87,739.5 L90.62,743.12 M87,746.75 L90.62,743.12 M90.62,750.38 L94.25,746.75 M94.25,746.75 L97.88,750.38 M94.25,754 L97.88,750.38 M68.88,714.12 L72.5,717.75 M72.5,717.75 L76.12,721.38 M72.5,725 L76.12,721.38 M76.12,728.62 L79.75,725 M79.75,725 L83.38,728.62 M79.75,732.25 L83.38,728.62 M83.38,728.62 L87,732.25 M87,732.25 L90.62,735.88 M87,739.5 L90.62,735.88 M90.62,743.12 L94.25,739.5 M94.25,739.5 L97.88,743.12 M94.25,746.75 L97.88,743.12 M68.88,706.88 L72.5,710.5 M72.5,710.5 L76.12,714.12 M72.5,717.75 L76.12,714.12 M76.12,721.38 L79.75,717.75 M79.75,717.75 L83.38,721.38 M79.75,725 L83.38,721.38 M83.38,721.38 L87,725 M87,725 L90.62,728.62 M87,732.25 L90.62,728.62 M90.62,735.88 L94.25,732.25 M94.25,732.25 L97.88,735.88 M94.25,739.5 L97.88,735.88 M76.12,714.12 L79.75,710.5 M79.75,710.5 L83.38,714.12 M79.75,717.75 L83.38,714.12 M83.38,714.12 L87,717.75 M87,717.75 L90.62,721.38 M87,725 L90.62,721.38 M90.62,728.62 L94.25,725 M94.25,725 L97.88,728.62 M94.25,732.25 L97.88,728.62 M83.38,706.88 L87,710.5 M87,710.5 L90.62,714.12 M87,717.75 L90.62,714.12 M90.62,721.38 L94.25,717.75 M94.25,717.75 L97.88,721.38 M94.25,725 L97.88,721.38 M90.62,714.12 L94.25,710.5 M94.25,710.5 L97.88,714.12 M94.25,717.75 L97.88,714.12" stroke="#000" stroke-width="1.2" fill="none"/></g>
<g clip-path="url(#hs7)"><path d="M68.88,779.38 L72.5,783 M72.5,783 L76.12,786.62 M72.5,790.25 L76.12,786.62 M68.88,772.12 L72.5,775.75 M72.5,775.75 L76.12,779.38 M72.5,783 L76.12,779.38 M76.12,786.62 L79.75,783 M79.75,783 L83.38,786.62 M79.75,790.25 L83.38,786.62 M68.88,764.88 L72.5,768.5 M72.5,768.5 L76.12,772.12 M72.5,775.75 L76.12,772.12 M76.12,779.38 L79.75,775.75 M79.75,775.75 L83.38,779.38 M79.75,783 L83.38,779.38 M83.38,779.38 L87,783 M87,783 L90.62,786.62 M87,790.25 L90.62,786.62 M68.88,757.62 L72.5,761.25 M72.5,761.25 L76.12,764.88 M72.5,768.5 L76.12,764.88 M76.12,772.12 L79.75,768.5 M79.75,768.5 L83.38,772.12 M79.75,775.75 L83.38,772.12 M83.38,772.12 L87,775.75 M87,775.75 L90.62,779.38 M87,783 L90.62,779.38 M90.62,786.62 L94.25,783 M94.25,783 L97.88,786.62 M94.25,790.25 L97.88,786.62 M68.88,750.38 L72.5,754 M72.5,754 L76.12,757.62 M72.5,761.25 L76.12,757.62 M76.12,764.88 L79.75,761.25 M79.75,761.25 L83.38,764.88 M79.75,768.5 L83.38,764.88 M83.38,764.88 L87,768.5 M87,768.5 L90.62,772.12 M87,775.75 L90.62,772.12 M90.62,779.38 L94.25,775.75 M94.25,775.75 L97.88,779.38 M94.25,783 L97.88,779.38 M97.88,779.38 L101.5,783 M101.5,783 L105.12,786.62 M101.5,790.25 L105.12,786.62 M68.88,743.12 L72.5,746.75 M72.5,746.75 L76.12,750.38 M72.5,754 L76.12,750.38 M76.12,757.62 L79.75,754 M79.75,754 L83.38,757.62 M79.75,761.25 L83.38,757.62 M83.38,757.62 L87,761.25 M87,761.25 L90.62,764.88 M87,768.5 L90.62,764.88 M90.62,772.12 L94.25,768.5 M94.25,768.5 L97.88,772.12 M94.25,775.75 L97.88,772.12 M97.88,772.12 L101.5,775.75 M101.5,775.75 L105.12,779.38 M101.5,783 L105.12,779.38 M105.12,786.62 L108.75,783 M108.75,783 L112.38,786.62 M108.75,790.25 L112.38,786.62 M72.5,739.5 L76.12,743.12 M72.5,746.75 L76.12,743.12 M76.12,750.38 L79.75,746.75 M79.75,746.75 L83.38,750.38 M79.75,754 L83.38,750.38 M83.38,750.38 L87,754 M87,754 L90.62,757.62 M87,761.25 L90.62,757.62 M90.62,764.88 L94.25,761.25 M94.25,761.25 L97.88,764.88 M94.25,768.5 L97.88,764.88 M97.88,764.88 L101.5,768.5 M101.5,768.5 L105.12,772.12 M101.5,775.75 L105.12,772.12 M105.12,779.38 L108.75,775.75 M108.75,775.75 L112.38,779.38 M108.75,783 L112.38,779.38 M79.75,739.5 L83.38,743.12 M79.75,746.75 L83.38,743.12 M83.38,743.12 L87,746.75 M87,746.75 L90.62,750.38 M87,754 L90.62,750.38 M90.62,757.62 L94.25,754 M94.25,754 L97.88,757.62 M94.25,761.25 L97.88,757.62 M97.88,757.62 L101.5,761.25 M101.5,761.25 L105.12,764.88 M101.5,768.5 L105.12,764.88 M105.12,772.12 L108.75,768.5 M108.75,768.5 L112.38,772.12 M108.75,775.75 L112.38,772.12 M87,739.5 L90.62,743.12 M87,746.75 L90.62,743.12 M90.62,750.38 L94.25,746.75 M94.25,746.75 L97.88,750.38 M94.25,754 L97.88,750.38 M97.88,750.38 L101.5,754 M101.5,754 L105.12,757.62 M101.5,761.25 L105.12,757.62 M105.12,764.88 L108.75,761.25 M108.75,761.25 L112.38,764.88 M108.75,768.5 L112.38,764.88 M94.25,739.5 L97.88,743.12 M94.25,746.75 L97.88,743.12 M97.88,743.12 L101.5,746.75 M101.5,746.75 L105.12,750.38 M101.5,754 L105.12,750.38 M105.12,757.62 L108.75,754 M108.75,754 L112.38,757.62 M108.75,761.25 L112.38,757.62 M101.5,739.5 L105.12,743.12 M101.5,746.75 L105.12,743.12 M105.12,750.38 L108.75,746.75 M108.75,746.75 L112.38,750.38 M108.75,754 L112.38,750.38 M108.75,739.5 L112.38,743.12 M108.75,746.75 L112.38,743.12" stroke="#000" stroke-width="1.2" fill="none"/></g>
<g clip-path="url(#hs8)"><path d="M90.62,786.62 L94.25,783 M94.25,783 L97.88,786.62 M94.25,790.25 L97.88,786.62 M90.62,779.38 L94.25,775.75 M94.25,775.75 L97.88,779.38 M94.25,783 L97.88,779.38 M97.88,779.38 L101.5,783 M101.5,783 L105.12,786.62 M101.5,790.25 L105.12,786.62 M90.62,772.12 L94.25,768.5 M94.25,768.5 L97.88,772.12 M94.25,775.75 L97.88,772.12 M97.88,772.12 L101.5,775.75 M101.5,775.75 L105.12,779.38 M101.5,783 L105.12,779.38 M105.12,786.62 L108.75,783 M108.75,783 L112.38,786.62 M108.75,790.25 L112.38,786.62 M90.62,764.88 L94.25,761.25 M94.25,761.25 L97.88,764.88 M94.25,768.5 L97.88,764.88 M97.88,764.88 L101.5,768.5 M101.5,768.5 L105.12,772.12 M101.5,775.75 L105.12,772.12 M105.12,779.38 L108.75,775.75 M108.75,775.75 L112.38,779.38 M108.75,783 L112.38,779.38 M112.38,779.38 L116,783 M116,783 L119.62,786.62 M116,790.25 L119.62,786.62 M94.25,754 L97.88,757.62 M94.25,761.25 L97.88,757.62 M97.88,757.62 L101.5,761.25 M101.5,761.25 L105.12,764.88 M101.5,768.5 L105.12,764.88 M105.12,772.12 L108.75,768.5 M108.75,768.5 L112.38,772.12 M108.75,775.75 L112.38,772.12 M112.38,772.12 L116,775.75 M116,775.75 L119.62,779.38 M116,783 L119.62,779.38 M119.62,786.62 L123.25,783 M123.25,783 L126.88,786.62 M123.25,790.25 L126.88,786.62 M101.5,754 L105.12,757.62 M101.5,761.25 L105.12,757.62 M105.12,764.88 L108.75,761.25 M108.75,761.25 L112.38,764.88 M108.75,768.5 L112.38,764.88 M112.38,764.88 L116,768.5 M116,768.5 L119.62,772.12 M116,775.75 L119.62,772.12 M119.62,779.38 L123.25,775.75 M123.25,775.75 L126.88,779.38 M123.25,783 L126.88,779.38 M126.88,779.38 L130.5,783 M130.5,783 L134.12,786.62 M130.5,790.25 L134.12,786.62 M108.75,754 L112.38,757.62 M108.75,761.25 L112.38,757.62 M112.38,757.62 L116,761.25 M116,761.25 L119.62,764.88 M116,768.5 L119.62,764.88 M119.62,772.12 L123.25,768.5 M123.25,768.5 L126.88,772.12 M123.25,775.75 L126.88,772.12 M126.88,772.12 L130.5,775.75 M130.5,775.75 L134.12,779.38 M130.5,783 L134.12,779.38 M134.12,786.62 L137.75,783 M137.75,783 L141.38,786.62 M137.75,790.25 L141.38,786.62 M116,754 L119.62,757.62 M116,761.25 L119.62,757.62 M119.62,764.88 L123.25,761.25 M123.25,761.25 L126.88,764.88 M123.25,768.5 L126.88,764.88 M126.88,764.88 L130.5,768.5 M130.5,768.5 L134.12,772.12 M130.5,775.75 L134.12,772.12 M134.12,779.38 L137.75,775.75 M137.75,775.75 L141.38,779.38 M137.75,783 L141.38,779.38 M141.38,779.38 L145,783 M145,783 L148.62,786.62 M145,790.25 L148.62,786.62 M123.25,754 L126.88,757.62 M123.25,761.25 L126.88,757.62 M126.88,757.62 L130.5,761.25 M130.5,761.25 L134.12,764.88 M130.5,768.5 L134.12,764.88 M134.12,772.12 L137.75,768.5 M137.75,768.5 L141.38,772.12 M137.75,775.75 L141.38,772.12 M141.38,772.12 L145,775.75 M145,775.75 L148.62,779.38 M145,783 L148.62,779.38 M148.62,786.62 L152.25,783 M152.25,783 L155.88,786.62 M152.25,790.25 L155.88,786.62 M130.5,754 L134.12,757.62 M130.5,761.25 L134.12,757.62 M134.12,764.88 L137.75,761.25 M137.75,761.25 L141.38,764.88 M137.75,768.5 L141.38,764.88 M141.38,764.88 L145,768.5 M145,768.5 L148.62,772.12 M145,775.75 L148.62,772.12 M148.62,779.38 L152.25,775.75 M152.25,775.75 L155.88,779.38 M152.25,783 L155.88,779.38 M155.88,779.38 L159.5,783 M159.5,783 L163.12,786.62 M159.5,790.25 L163.12,786.62 M137.75,754 L141.38,757.62 M137.75,761.25 L141.38,757.62 M141.38,757.62 L145,761.25 M145,761.25 L148.62,764.88 M145,768.5 L148.62,764.88 M148.62,772.12 L152.25,768.5 M152.25,768.5 L155.88,772.12 M152.25,775.75 L155.88,772.12 M155.88,772.12 L159.5,775.75 M159.5,775.75 L163.12,779.38 M159.5,783 L163.12,779.38 M163.12,786.62 L166.75,783 M166.75,783 L170.38,786.62 M166.75,790.25 L170.38,786.62 M145,754 L148.62,757.62 M145,761.25 L148.62,757.62 M148.62,764.88 L152.25,761.25 M152.25,761.25 L155.88,764.88 M152.25,768.5 L155.88,764.88 M155.88,764.88 L159.5,768.5 M159.5,768.5 L163.12,772.12 M159.5,775.75 L163.12,772.12 M163.12,779.38 L166.75,775.75 M166.75,775.75 L170.38,779.38 M166.75,783 L170.38,779.38 M170.38,779.38 L174,783 M174,783 L177.62,786.62 M174,790.25 L177.62,786.62 M152.25,754 L155.88,757.62 M152.25,761.25 L155.88,757.62 M155.88,757.62 L159.5,761.25 M159.5,761.25 L163.12,764.88 M159.5,768.5 L163.12,764.88 M163.12,772.12 L166.75,768.5 M166.75,768.5 L170.38,772.12 M166.75,775.75 L170.38,772.12 M170.38,772.12 L174,775.75 M174,775.75 L177.62,779.38 M174,783 L177.62,779.38 M177.62,786.62 L181.25,783 M181.25,783 L184.88,786.62 M181.25,790.25 L184.88,786.62 M159.5,754 L163.12,757.62 M159.5,761.25 L163.12,757.62 M163.12,764.88 L166.75,761.25 M166.75,761.25 L170.38,764.88 M166.75,768.5 L170.38,764.88 M170.38,764.88 L174,768.5 M174,768.5 L177.62,772.12 M174,775.75 L177.62,772.12 M177.62,779.38 L181.25,775.75 M181.25,775.75 L184.88,779.38 M181.25,783 L184.88,779.38 M184.88,779.38 L188.5,783 M188.5,783 L192.12,786.62 M188.5,790.25 L192.12,786.62 M166.75,754 L170.38,757.62 M166.75,761.25 L170.38,757.62 M170.38,757.62 L174,761.25 M174,761.25 L177.62,764.88 M174,768.5 L177.62,764.88 M177.62,772.12 L181.25,768.5 M181.25,768.5 L184.88,772.12 M181.25,775.75 L184.88,772.12 M184.88,772.12 L188.5,775.75 M188.5,775.75 L192.12,779.38 M188.5,783 L192.12,779.38 M192.12,786.62 L195.75,783 M195.75,783 L199.38,786.62 M195.75,790.25 L199.38,786.62 M174,754 L177.62,757.62 M174,761.25 L177.62,757.62 M177.62,764.88 L181.25,761.25 M181.25,761.25 L184.88,764.88 M181.25,768.5 L184.88,764.88 M184.88,764.88 L188.5,768.5 M188.5,768.5 L192.12,772.12 M188.5,775.75 L192.12,772.12 M192.12,779.38 L195.75,775.75 M195.75,775.75 L199.38,779.38 M195.75,783 L199.38,779.38 M199.38,779.38 L203,783 M203,783 L206.62,786.62 M203,790.25 L206.62,786.62 M181.25,754 L184.88,757.62 M181.25,761.25 L184.88,757.62 M184.88,757.62 L188.5,761.25 M188.5,761.25 L192.12,764.88 M188.5,768.5 L192.12,764.88 M192.12,772.12 L195.75,768.5 M195.75,768.5 L199.38,772.12 M195.75,775.75 L199.38,772.12 M199.38,772.12 L203,775.75 M203,775.75 L206.62,779.38 M203,783 L206.62,779.38 M206.62,786.62 L210.25,783 M210.25,783 L213.88,786.62 M210.25,790.25 L213.88,786.62 M188.5,754 L192.12,757.62 M188.5,761.25 L192.12,757.62 M192.12,764.88 L195.75,761.25 M195.75,761.25 L199.38,764.88 M195.75,768.5 L199.38,764.88 M199.38,764.88 L203,768.5 M203,768.5 L206.62,772.12 M203,775.75 L206.62,772.12 M206.62,779.38 L210.25,775.75 M210.25,775.75 L213.88,779.38 M210.25,783 L213.88,779.38 M213.88,779.38 L217.5,783 M217.5,783 L221.12,786.62 M217.5,790.25 L221.12,786.62 M195.75,754 L199.38,757.62 M195.75,761.25 L199.38,757.62 M199.38,757.62 L203,761.25 M203,761.25 L206.62,764.88 M203,768.5 L206.62,764.88 M206.62,772.12 L210.25,768.5 M210.25,768.5 L213.88,772.12 M210.25,775.75 L213.88,772.12 M213.88,772.12 L217.5,775.75 M217.5,775.75 L221.12,779.38 M217.5,783 L221.12,779.38 M221.12,786.62 L224.75,783 M224.75,783 L228.38,786.62 M224.75,790.25 L228.38,786.62 M203,754 L206.62,757.62 M203,761.25 L206.62,757.62 M206.62,764.88 L210.25,761.25 M210.25,761.25 L213.88,764.88 M210.25,768.5 L213.88,764.88 M213.88,764.88 L217.5,768.5 M217.5,768.5 L221.12,772.12 M217.5,775.75 L221.12,772.12 M221.12,779.38 L224.75,775.75 M224.75,775.75 L228.38,779.38 M224.75,783 L228.38,779.38 M228.38,779.38 L232,783 M232,783 L235.62,786.62 M232,790.25 L235.62,786.62 M210.25,754 L213.88,757.62 M210.25,761.25 L213.88,757.62 M213.88,757.62 L217.5,761.25 M217.5,761.25 L221.12,764.88 M217.5,768.5 L221.12,764.88 M221.12,772.12 L224.75,768.5 M224.75,768.5 L228.38,772.12 M224.75,775.75 L228.38,772.12 M228.38,772.12 L232,775.75 M232,775.75 L235.62,779.38 M232,783 L235.62,779.38 M235.62,786.62 L239.25,783 M239.25,783 L242.88,786.62 M239.25,790.25 L242.88,786.62 M217.5,754 L221.12,757.62 M217.5,761.25 L221.12,757.62 M221.12,764.88 L224.75,761.25 M224.75,761.25 L228.38,764.88 M224.75,768.5 L228.38,764.88 M228.38,764.88 L232,768.5 M232,768.5 L235.62,772.12 M232,775.75 L235.62,772.12 M235.62,779.38 L239.25,775.75 M239.25,775.75 L242.88,779.38 M239.25,783 L242.88,779.38 M242.88,779.38 L246.5,783 M246.5,783 L250.12,786.62 M246.5,790.25 L250.12,786.62 M224.75,754 L228.38,757.62 M224.75,761.25 L228.38,757.62 M228.38,757.62 L232,761.25 M232,761.25 L235.62,764.88 M232,768.5 L235.62,764.88 M235.62,772.12 L239.25,768.5 M239.25,768.5 L242.88,772.12 M239.25,775.75 L242.88,772.12 M242.88,772.12 L246.5,775.75 M246.5,775.75 L250.12,779.38 M246.5,783 L250.12,779.38 M250.12,786.62 L253.75,783 M253.75,783 L257.38,786.62 M253.75,790.25 L257.38,786.62 M232,754 L235.62,757.62 M232,761.25 L235.62,757.62 M235.62,764.88 L239.25,761.25 M239.25,761.25 L242.88,764.88 M239.25,768.5 L242.88,764.88 M242.88,764.88 L246.5,768.5 M246.5,768.5 L250.12,772.12 M246.5,775.75 L250.12,772.12 M250.12,779.38 L253.75,775.75 M253.75,775.75 L257.38,779.38 M253.75,783 L257.38,779.38 M257.38,779.38 L261,783 M261,783 L264.62,786.62 M261,790.25 L264.62,786.62 M239.25,754 L242.88,757.62 M239.25,761.25 L242.88,757.62 M242.88,757.62 L246.5,761.25 M246.5,761.25 L250.12,764.88 M246.5,768.5 L250.12,764.88 M250.12,772.12 L253.75,768.5 M253.75,768.5 L257.38,772.12 M253.75,775.75 L257.38,772.12 M257.38,772.12 L261,775.75 M261,775.75 L264.62,779.38 M261,783 L264.62,779.38 M264.62,786.62 L268.25,783 M268.25,783 L271.88,786.62 M268.25,790.25 L271.88,786.62 M246.5,754 L250.12,757.62 M246.5,761.25 L250.12,757.62 M250.12,764.88 L253.75,761.25 M253.75,761.25 L257.38,764.88 M253.75,768.5 L257.38,764.88 M257.38,764.88 L261,768.5 M261,768.5 L264.62,772.12 M261,775.75 L264.62,772.12 M264.62,779.38 L268.25,775.75 M268.25,775.75 L271.88,779.38 M268.25,783 L271.88,779.38 M271.88,779.38 L275.5,783 M275.5,783 L279.12,786.62 M275.5,790.25 L279.12,786.62 M253.75,754 L257.38,757.62 M253.75,761.25 L257.38,757.62 M257.38,757.62 L261,761.25 M261,761.25 L264.62,764.88 M261,768.5 L264.62,764.88 M264.62,772.12 L268.25,768.5 M268.25,768.5 L271.88,772.12 M268.25,775.75 L271.88,772.12 M271.88,772.12 L275.5,775.75 M275.5,775.75 L279.12,779.38 M275.5,783 L279.12,779.38 M279.12,786.62 L282.75,783 M282.75,783 L286.38,786.62 M282.75,790.25 L286.38,786.62 M261,754 L264.62,757.62 M261,761.25 L264.62,757.62 M264.62,764.88 L268.25,761.25 M268.25,761.25 L271.88,764.88 M268.25,768.5 L271.88,764.88 M271.88,764.88 L275.5,768.5 M275.5,768.5 L279.12,772.12 M275.5,775.75 L279.12,772.12 M279.12,779.38 L282.75,775.75 M282.75,775.75 L286.38,779.38 M282.75,783 L286.38,779.38 M286.38,779.38 L290,783 M290,783 L293.62,786.62 M290,790.25 L293.62,786.62 M268.25,754 L271.88,757.62 M268.25,761.25 L271.88,757.62 M271.88,757.62 L275.5,761.25 M275.5,761.25 L279.12,764.88 M275.5,768.5 L279.12,764.88 M279.12,772.12 L282.75,768.5 M282.75,768.5 L286.38,772.12 M282.75,775.75 L286.38,772.12 M286.38,772.12 L290,775.75 M290,775.75 L293.62,779.38 M290,783 L293.62,779.38 M293.62,786.62 L297.25,783 M297.25,783 L300.88,786.62 M297.25,790.25 L300.88,786.62 M275.5,754 L279.12,757.62 M275.5,761.25 L279.12,757.62 M279.12,764.88 L282.75,761.25 M282.75,761.25 L286.38,764.88 M282.75,768.5 L286.38,764.88 M286.38,764.88 L290,768.5 M290,768.5 L293.62,772.12 M290,775.75 L293.62,772.12 M293.62,779.38 L297.25,775.75 M297.25,775.75 L300.88,779.38 M297.25,783 L300.88,779.38 M300.88,779.38 L304.5,783 M304.5,783 L308.12,786.62 M304.5,790.25 L308.12,786.62 M282.75,754 L286.38,757.62 M282.75,761.25 L286.38,757.62 M286.38,757.62 L290,761.25 M290,761.25 L293.62,764.88 M290,768.5 L293.62,764.88 M293.62,772.12 L297.25,768.5 M297.25,768.5 L300.88,772.12 M297.25,775.75 L300.88,772.12 M300.88,772.12 L304.5,775.75 M304.5,775.75 L308.12,779.38 M304.5,783 L308.12,779.38 M308.12,786.62 L311.75,783 M311.75,783 L315.38,786.62 M311.75,790.25 L315.38,786.62 M290,754 L293.62,757.62 M290,761.25 L293.62,757.62 M293.62,764.88 L297.25,761.25 M297.25,761.25 L300.88,764.88 M297.25,768.5 L300.88,764.88 M300.88,764.88 L304.5,768.5 M304.5,768.5 L308.12,772.12 M304.5,775.75 L308.12,772.12 M308.12,779.38 L311.75,775.75 M311.75,775.75 L315.38,779.38 M311.75,783 L315.38,779.38 M315.38,779.38 L319,783 M319,783 L322.62,786.62 M319,790.25 L322.62,786.62 M297.25,754 L300.88,757.62 M297.25,761.25 L300.88,757.62 M300.88,757.62 L304.5,761.25 M304.5,761.25 L308.12,764.88 M304.5,768.5 L308.12,764.88 M308.12,772.12 L311.75,768.5 M311.75,768.5 L315.38,772.12 M311.75,775.75 L315.38,772.12 M315.38,772.12 L319,775.75 M319,775.75 L322.62,779.38 M319,783 L322.62,779.38 M322.62,786.62 L326.25,783 M326.25,783 L329.88,786.62 M326.25,790.25 L329.88,786.62 M304.5,754 L308.12,757.62 M304.5,761.25 L308.12,757.62 M308.12,764.88 L311.75,761.25 M311.75,761.25 L315.38,764.88 M311.75,768.5 L315.38,764.88 M315.38,764.88 L319,768.5 M319,768.5 L322.62,772.12 M319,775.75 L322.62,772.12 M322.62,779.38 L326.25,775.75 M326.25,775.75 L329.88,779.38 M326.25,783 L329.88,779.38 M329.88,779.38 L333.5,783 M333.5,783 L337.12,786.62 M333.5,790.25 L337.12,786.62 M311.75,754 L315.38,757.62 M311.75,761.25 L315.38,757.62 M315.38,757.62 L319,761.25 M319,761.25 L322.62,764.88 M319,768.5 L322.62,764.88 M322.62,772.12 L326.25,768.5 M326.25,768.5 L329.88,772.12 M326.25,775.75 L329.88,772.12 M329.88,772.12 L333.5,775.75 M333.5,775.75 L337.12,779.38 M333.5,783 L337.12,779.38 M337.12,786.62 L340.75,783 M340.75,783 L344.38,786.62 M340.75,790.25 L344.38,786.62 M319,754 L322.62,757.62 M319,761.25 L322.62,757.62 M322.62,764.88 L326.25,761.25 M326.25,761.25 L329.88,764.88 M326.25,768.5 L329.88,764.88 M329.88,764.88 L333.5,768.5 M333.5,768.5 L337.12,772.12 M333.5,775.75 L337.12,772.12 M337.12,779.38 L340.75,775.75 M340.75,775.75 L344.38,779.38 M340.75,783 L344.38,779.38 M344.38,779.38 L348,783 M348,783 L351.62,786.62 M348,790.25 L351.62,786.62 M326.25,754 L329.88,757.62 M326.25,761.25 L329.88,757.62 M329.88,757.62 L333.5,761.25 M333.5,761.25 L337.12,764.88 M333.5,768.5 L337.12,764.88 M337.12,772.12 L340.75,768.5 M340.75,768.5 L344.38,772.12 M340.75,775.75 L344.38,772.12 M344.38,772.12 L348,775.75 M348,775.75 L351.62,779.38 M348,783 L351.62,779.38 M351.62,786.62 L355.25,783 M355.25,783 L358.88,786.62 M355.25,790.25 L358.88,786.62 M333.5,754 L337.12,757.62 M333.5,761.25 L337.12,757.62 M337.12,764.88 L340.75,761.25 M340.75,761.25 L344.38,764.88 M340.75,768.5 L344.38,764.88 M344.38,764.88 L348,768.5 M348,768.5 L351.62,772.12 M348,775.75 L351.62,772.12 M351.62,779.38 L355.25,775.75 M355.25,775.75 L358.88,779.38 M355.25,783 L358.88,779.38 M358.88,779.38 L362.5,783 M362.5,783 L366.12,786.62 M362.5,790.25 L366.12,786.62 M340.75,754 L344.38,757.62 M340.75,761.25 L344.38,757.62 M344.38,757.62 L348,761.25 M348,761.25 L351.62,764.88 M348,768.5 L351.62,764.88 M351.62,772.12 L355.25,768.5 M355.25,768.5 L358.88,772.12 M355.25,775.75 L358.88,772.12 M358.88,772.12 L362.5,775.75 M362.5,775.75 L366.12,779.38 M362.5,783 L366.12,779.38 M366.12,786.62 L369.75,783 M369.75,783 L373.38,786.62 M369.75,790.25 L373.38,786.62 M348,754 L351.62,757.62 M348,761.25 L351.62,757.62 M351.62,764.88 L355.25,761.25 M355.25,761.25 L358.88,764.88 M355.25,768.5 L358.88,764.88 M358.88,764.88 L362.5,768.5 M362.5,768.5 L366.12,772.12 M362.5,775.75 L366.12,772.12 M366.12,779.38 L369.75,775.75 M369.75,775.75 L373.38,779.38 M369.75,783 L373.38,779.38 M373.38,779.38 L377,783 M377,783 L380.62,786.62 M377,790.25 L380.62,786.62 M355.25,754 L358.88,757.62 M355.25,761.25 L358.88,757.62 M358.88,757.62 L362.5,761.25 M362.5,761.25 L366.12,764.88 M362.5,768.5 L366.12,764.88 M366.12,772.12 L369.75,768.5 M369.75,768.5 L373.38,772.12 M369.75,775.75 L373.38,772.12 M373.38,772.12 L377,775.75 M377,775.75 L380.62,779.38 M377,783 L380.62,779.38 M380.62,786.62 L384.25,783 M384.25,783 L387.88,786.62 M384.25,790.25 L387.88,786.62 M362.5,754 L366.12,757.62 M362.5,761.25 L366.12,757.62 M366.12,764.88 L369.75,761.25 M369.75,761.25 L373.38,764.88 M369.75,768.5 L373.38,764.88 M373.38,764.88 L377,768.5 M377,768.5 L380.62,772.12 M377,775.75 L380.62,772.12 M380.62,779.38 L384.25,775.75 M384.25,775.75 L387.88,779.38 M384.25,783 L387.88,779.38 M387.88,779.38 L391.5,783 M391.5,783 L395.12,786.62 M391.5,790.25 L395.12,786.62 M369.75,754 L373.38,757.62 M369.75,761.25 L373.38,757.62 M373.38,757.62 L377,761.25 M377,761.25 L380.62,764.88 M377,768.5 L380.62,764.88 M380.62,772.12 L384.25,768.5 M384.25,768.5 L387.88,772.12 M384.25,775.75 L387.88,772.12 M387.88,772.12 L391.5,775.75 M391.5,775.75 L395.12,779.38 M391.5,783 L395.12,779.38 M395.12,786.62 L398.75,783 M377,754 L380.62,757.62 M377,761.25 L380.62,757.62 M380.62,764.88 L384.25,761.25 M384.25,761.25 L387.88,764.88 M384.25,768.5 L387.88,764.88 M387.88,764.88 L391.5,768.5 M391.5,768.5 L395.12,772.12 M391.5,775.75 L395.12,772.12 M395.12,779.38 L398.75,775.75 M384.25,754 L387.88,757.62 M384.25,761.25 L387.88,757.62 M387.88,757.62 L391.5,761.25 M391.5,761.25 L395.12,764.88 M391.5,768.5 L395.12,764.88 M395.12,772.12 L398.75,768.5 M391.5,754 L395.12,757.62 M391.5,761.25 L395.12,757.62 M395.12,764.88 L398.75,761.25" stroke="#000" stroke-width="1.2" fill="none"/></g>
<g clip-path="url(#hs9)"><path d="M377,783 L380.62,786.62 M377,790.25 L380.62,786.62 M377,775.75 L380.62,779.38 M377,783 L380.62,779.38 M380.62,786.62 L384.25,783 M384.25,783 L387.88,786.62 M384.25,790.25 L387.88,786.62 M377,768.5 L380.62,772.12 M377,775.75 L380.62,772.12 M380.62,779.38 L384.25,775.75 M384.25,775.75 L387.88,779.38 M384.25,783 L387.88,779.38 M387.88,779.38 L391.5,783 M391.5,783 L395.12,786.62 M391.5,790.25 L395.12,786.62 M377,761.25 L380.62,764.88 M377,768.5 L380.62,764.88 M380.62,772.12 L384.25,768.5 M384.25,768.5 L387.88,772.12 M384.25,775.75 L387.88,772.12 M387.88,772.12 L391.5,775.75 M391.5,775.75 L395.12,779.38 M391.5,783 L395.12,779.38 M395.12,786.62 L398.75,783 M398.75,783 L402.38,786.62 M398.75,790.25 L402.38,786.62 M377,754 L380.62,757.62 M377,761.25 L380.62,757.62 M380.62,764.88 L384.25,761.25 M384.25,761.25 L387.88,764.88 M384.25,768.5 L387.88,764.88 M387.88,764.88 L391.5,768.5 M391.5,768.5 L395.12,772.12 M391.5,775.75 L395.12,772.12 M395.12,779.38 L398.75,775.75 M398.75,775.75 L402.38,779.38 M398.75,783 L402.38,779.38 M402.38,779.38 L406,783 M406,783 L409.62,786.62 M406,790.25 L409.62,786.62 M377,746.75 L380.62,750.38 M377,754 L380.62,750.38 M380.62,757.62 L384.25,754 M384.25,754 L387.88,757.62 M384.25,761.25 L387.88,757.62 M387.88,757.62 L391.5,761.25 M391.5,761.25 L395.12,764.88 M391.5,768.5 L395.12,764.88 M395.12,772.12 L398.75,768.5 M398.75,768.5 L402.38,772.12 M398.75,775.75 L402.38,772.12 M402.38,772.12 L406,775.75 M406,775.75 L409.62,779.38 M406,783 L409.62,779.38 M409.62,786.62 L413.25,783 M413.25,783 L416.88,786.62 M413.25,790.25 L416.88,786.62 M377,739.5 L380.62,743.12 M377,746.75 L380.62,743.12 M380.62,750.38 L384.25,746.75 M384.25,746.75 L387.88,750.38 M384.25,754 L387.88,750.38 M387.88,750.38 L391.5,754 M391.5,754 L395.12,757.62 M391.5,761.25 L395.12,757.62 M395.12,764.88 L398.75,761.25 M398.75,761.25 L402.38,764.88 M398.75,768.5 L402.38,764.88 M402.38,764.88 L406,768.5 M406,768.5 L409.62,772.12 M406,775.75 L409.62,772.12 M409.62,779.38 L413.25,775.75 M413.25,775.75 L416.88,779.38 M413.25,783 L416.88,779.38 M416.88,779.38 L420.5,783 M384.25,739.5 L387.88,743.12 M384.25,746.75 L387.88,743.12 M387.88,743.12 L391.5,746.75 M391.5,746.75 L395.12,750.38 M391.5,754 L395.12,750.38 M395.12,757.62 L398.75,754 M398.75,754 L402.38,757.62 M398.75,761.25 L402.38,757.62 M402.38,757.62 L406,761.25 M406,761.25 L409.62,764.88 M406,768.5 L409.62,764.88 M409.62,772.12 L413.25,768.5 M413.25,768.5 L416.88,772.12 M413.25,775.75 L416.88,772.12 M416.88,772.12 L420.5,775.75 M391.5,739.5 L395.12,743.12 M391.5,746.75 L395.12,743.12 M395.12,750.38 L398.75,746.75 M398.75,746.75 L402.38,750.38 M398.75,754 L402.38,750.38 M402.38,750.38 L406,754 M406,754 L409.62,757.62 M406,761.25 L409.62,757.62 M409.62,764.88 L413.25,761.25 M413.25,761.25 L416.88,764.88 M413.25,768.5 L416.88,764.88 M416.88,764.88 L420.5,768.5 M398.75,739.5 L402.38,743.12 M398.75,746.75 L402.38,743.12 M402.38,743.12 L406,746.75 M406,746.75 L409.62,750.38 M406,754 L409.62,750.38 M409.62,757.62 L413.25,754 M413.25,754 L416.88,757.62 M413.25,761.25 L416.88,757.62 M416.88,757.62 L420.5,761.25 M406,739.5 L409.62,743.12 M406,746.75 L409.62,743.12 M409.62,750.38 L413.25,746.75 M413.25,746.75 L416.88,750.38 M413.25,754 L416.88,750.38 M416.88,750.38 L420.5,754 M413.25,739.5 L416.88,743.12 M413.25,746.75 L416.88,743.12 M416.88,743.12 L420.5,746.75" stroke="#000" stroke-width="1.2" fill="none"/></g>
<g clip-path="url(#hs10)"><path d="M391.5,754 L395.12,757.62 M391.5,761.25 L395.12,757.62 M395.12,764.88 L398.75,761.25 M391.5,746.75 L395.12,750.38 M391.5,754 L395.12,750.38 M395.12,757.62 L398.75,754 M398.75,754 L402.38,757.62 M398.75,761.25 L402.38,757.62 M402.38,757.62 L406,761.25 M391.5,739.5 L395.12,743.12 M391.5,746.75 L395.12,743.12 M395.12,750.38 L398.75,746.75 M398.75,746.75 L402.38,750.38 M398.75,754 L402.38,750.38 M402.38,750.38 L406,754 M406,754 L409.62,757.62 M406,761.25 L409.62,757.62 M409.62,764.88 L413.25,761.25 M391.5,732.25 L395.12,735.88 M391.5,739.5 L395.12,735.88 M395.12,743.12 L398.75,739.5 M398.75,739.5 L402.38,743.12 M398.75,746.75 L402.38,743.12 M402.38,743.12 L406,746.75 M406,746.75 L409.62,750.38 M406,754 L409.62,750.38 M409.62,757.62 L413.25,754 M413.25,754 L416.88,757.62 M413.25,761.25 L416.88,757.62 M416.88,757.62 L420.5,761.25 M391.5,725 L395.12,728.62 M391.5,732.25 L395.12,728.62 M395.12,735.88 L398.75,732.25 M398.75,732.25 L402.38,735.88 M398.75,739.5 L402.38,735.88 M402.38,735.88 L406,739.5 M406,739.5 L409.62,743.12 M406,746.75 L409.62,743.12 M409.62,750.38 L413.25,746.75 M413.25,746.75 L416.88,750.38 M413.25,754 L416.88,750.38 M416.88,750.38 L420.5,754 M391.5,717.75 L395.12,721.38 M391.5,725 L395.12,721.38 M395.12,728.62 L398.75,725 M398.75,725 L402.38,728.62 M398.75,732.25 L402.38,728.62 M402.38,728.62 L406,732.25 M406,732.25 L409.62,735.88 M406,739.5 L409.62,735.88 M409.62,743.12 L413.25,739.5 M413.25,739.5 L416.88,743.12 M413.25,746.75 L416.88,743.12 M416.88,743.12 L420.5,746.75 M391.5,710.5 L395.12,714.12 M391.5,717.75 L395.12,714.12 M395.12,721.38 L398.75,717.75 M398.75,717.75 L402.38,721.38 M398.75,725 L402.38,721.38 M402.38,721.38 L406,725 M406,725 L409.62,728.62 M406,732.25 L409.62,728.62 M409.62,735.88 L413.25,732.25 M413.25,732.25 L416.88,735.88 M413.25,739.5 L416.88,735.88 M416.88,735.88 L420.5,739.5 M391.5,703.25 L395.12,706.88 M391.5,710.5 L395.12,706.88 M395.12,714.12 L398.75,710.5 M398.75,710.5 L402.38,714.12 M398.75,717.75 L402.38,714.12 M402.38,714.12 L406,717.75 M406,717.75 L409.62,721.38 M406,725 L409.62,721.38 M409.62,728.62 L413.25,725 M413.25,725 L416.88,728.62 M413.25,732.25 L416.88,728.62 M416.88,728.62 L420.5,732.25 M391.5,696 L395.12,699.62 M391.5,703.25 L395.12,699.62 M395.12,706.88 L398.75,703.25 M398.75,703.25 L402.38,706.88 M398.75,710.5 L402.38,706.88 M402.38,706.88 L406,710.5 M406,710.5 L409.62,714.12 M406,717.75 L409.62,714.12 M409.62,721.38 L413.25,717.75 M413.25,717.75 L416.88,721.38 M413.25,725 L416.88,721.38 M416.88,721.38 L420.5,725 M391.5,688.75 L395.12,692.38 M391.5,696 L395.12,692.38 M395.12,699.62 L398.75,696 M398.75,696 L402.38,699.62 M398.75,703.25 L402.38,699.62 M402.38,699.62 L406,703.25 M406,703.25 L409.62,706.88 M406,710.5 L409.62,706.88 M409.62,714.12 L413.25,710.5 M413.25,710.5 L416.88,714.12 M413.25,717.75 L416.88,714.12 M416.88,714.12 L420.5,717.75 M391.5,681.5 L395.12,685.12 M391.5,688.75 L395.12,685.12 M395.12,692.38 L398.75,688.75 M398.75,688.75 L402.38,692.38 M398.75,696 L402.38,692.38 M402.38,692.38 L406,696 M406,696 L409.62,699.62 M406,703.25 L409.62,699.62 M409.62,706.88 L413.25,703.25 M413.25,703.25 L416.88,706.88 M413.25,710.5 L416.88,706.88 M416.88,706.88 L420.5,710.5 M391.5,674.25 L395.12,677.88 M391.5,681.5 L395.12,677.88 M395.12,685.12 L398.75,681.5 M398.75,681.5 L402.38,685.12 M398.75,688.75 L402.38,685.12 M402.38,685.12 L406,688.75 M406,688.75 L409.62,692.38 M406,696 L409.62,692.38 M409.62,699.62 L413.25,696 M413.25,696 L416.88,699.62 M413.25,703.25 L416.88,699.62 M416.88,699.62 L420.5,703.25 M391.5,667 L395.12,670.62 M391.5,674.25 L395.12,670.62 M395.12,677.88 L398.75,674.25 M398.75,674.25 L402.38,677.88 M398.75,681.5 L402.38,677.88 M402.38,677.88 L406,681.5 M406,681.5 L409.62,685.12 M406,688.75 L409.62,685.12 M409.62,692.38 L413.25,688.75 M413.25,688.75 L416.88,692.38 M413.25,696 L416.88,692.38 M416.88,692.38 L420.5,696 M391.5,659.75 L395.12,663.38 M391.5,667 L395.12,663.38 M395.12,670.62 L398.75,667 M398.75,667 L402.38,670.62 M398.75,674.25 L402.38,670.62 M402.38,670.62 L406,674.25 M406,674.25 L409.62,677.88 M406,681.5 L409.62,677.88 M409.62,685.12 L413.25,681.5 M413.25,681.5 L416.88,685.12 M413.25,688.75 L416.88,685.12 M416.88,685.12 L420.5,688.75 M398.75,659.75 L402.38,663.38 M398.75,667 L402.38,663.38 M402.38,663.38 L406,667 M406,667 L409.62,670.62 M406,674.25 L409.62,670.62 M409.62,677.88 L413.25,674.25 M413.25,674.25 L416.88,677.88 M413.25,681.5 L416.88,677.88 M416.88,677.88 L420.5,681.5 M406,659.75 L409.62,663.38 M406,667 L409.62,663.38 M409.62,670.62 L413.25,667 M413.25,667 L416.88,670.62 M413.25,674.25 L416.88,670.62 M416.88,670.62 L420.5,674.25 M413.25,659.75 L416.88,663.38 M413.25,667 L416.88,663.38 M416.88,663.38 L420.5,667" stroke="#000" stroke-width="1.2" fill="none"/></g>
<path d="M74.5,716 L74.5,754.9 L98.55,778.95 L387.3,778.95 L412.4,753.85 L412.4,668.2" fill="none" stroke="#000" stroke-width="1.57" />
<path d="M88,716 L88,749.3 L104.15,765.45 L381.7,765.45 L398.9,748.25 L398.9,668.2" fill="none" stroke="#000" stroke-width="1.57" />
<line x1="74.5" y1="716" x2="88" y2="716" stroke="#000" stroke-width="1.34" />
<line x1="412.4" y1="668.2" x2="398.9" y2="668.2" stroke="#000" stroke-width="1.34" />
<rect x="167" y="747.1" width="24.7" height="6" fill="#fff" stroke="#000" stroke-width="1.29"/>
<text x="179.35" y="753" font-size="8.2" text-anchor="middle" font-weight="bold" fill="#111" textLength="23.1" lengthAdjust="spacingAndGlyphs">400mm</text>
<rect x="165.7" y="769.3" width="29.7" height="6" fill="#fff" stroke="#000" stroke-width="1.29"/>
<text x="180.55" y="775.2" font-size="8.2" text-anchor="middle" font-weight="bold" fill="#111" textLength="28.1" lengthAdjust="spacingAndGlyphs">2000mm</text>
<rect x="78" y="657.2" width="48.3" height="2.6" fill="none" stroke="#000" stroke-width="1.34"/>
<rect x="81.5" y="659.8" width="41.9" height="8.1" fill="none" stroke="#000" stroke-width="1.68"/>
<line x1="90.4" y1="659.8" x2="90.4" y2="667.9" stroke="#000" stroke-width="1.12" />
<line x1="92.7" y1="659.8" x2="92.7" y2="667.9" stroke="#000" stroke-width="1.12" />
<line x1="112.2" y1="659.8" x2="112.2" y2="667.9" stroke="#000" stroke-width="1.12" />
<line x1="114" y1="659.8" x2="114" y2="667.9" stroke="#000" stroke-width="1.12" />
<rect x="232" y="657.2" width="49.5" height="2.6" fill="none" stroke="#000" stroke-width="1.34"/>
<rect x="236" y="659.8" width="42" height="8.1" fill="none" stroke="#000" stroke-width="1.68"/>
<line x1="245.5" y1="659.8" x2="245.5" y2="667.9" stroke="#000" stroke-width="1.12" />
<line x1="247.5" y1="659.8" x2="247.5" y2="667.9" stroke="#000" stroke-width="1.12" />
<line x1="266" y1="659.8" x2="266" y2="667.9" stroke="#000" stroke-width="1.12" />
<line x1="268" y1="659.8" x2="268" y2="667.9" stroke="#000" stroke-width="1.12" />
<rect x="381" y="657.2" width="48.4" height="2.6" fill="none" stroke="#000" stroke-width="1.34"/>
<rect x="384.4" y="659.8" width="41.9" height="8.1" fill="none" stroke="#000" stroke-width="1.68"/>
<line x1="395.5" y1="659.8" x2="395.5" y2="667.9" stroke="#000" stroke-width="1.12" />
<line x1="397.5" y1="659.8" x2="397.5" y2="667.9" stroke="#000" stroke-width="1.12" />
<line x1="414" y1="659.8" x2="414" y2="667.9" stroke="#000" stroke-width="1.12" />
<line x1="416" y1="659.8" x2="416" y2="667.9" stroke="#000" stroke-width="1.12" />
<rect x="89.2" y="667.8" width="26.1" height="9.1" fill="none" stroke="#000" stroke-width="1.46"/>
<path d="M89.9,669 l1.5,1.2 l-1.5,1.2 l1.5,1.2 l-1.5,1.2 l1.5,1.2 l-1.5,1.2" fill="none" stroke="#000" stroke-width="0.9" />
<path d="M114.6,669 l-1.5,1.2 l1.5,1.2 l-1.5,1.2 l1.5,1.2 l-1.5,1.2 l1.5,1.2" fill="none" stroke="#000" stroke-width="0.9" />
<path d="M92,676.9 Q97,673.5 102.4,675.5 Q108,677 112.5,674.8" fill="none" stroke="#000" stroke-width="1.01" />
<path d="M89.2,676.9 L89.2,678.4 Q89.5,680.3 92,680.3 L112.5,680.3 Q115,680.3 115.3,678.4 L115.3,676.9" fill="none" stroke="#000" stroke-width="1.46" />
<line x1="92.2" y1="680.3" x2="92.2" y2="689.3" stroke="#000" stroke-width="1.23" />
<line x1="112.6" y1="680.3" x2="112.6" y2="689.3" stroke="#000" stroke-width="1.23" />
<rect x="95.8" y="680.3" width="13.2" height="12.1" fill="none" stroke="#000" stroke-width="1.46"/>
<line x1="95.8" y1="681" x2="109" y2="681" stroke="#000" stroke-width="1.79" />
<line x1="95.8" y1="687.6" x2="109" y2="687.6" stroke="#000" stroke-width="1.12" />
<line x1="95.8" y1="689" x2="109" y2="689" stroke="#000" stroke-width="1.12" />
<line x1="92" y1="688.6" x2="156.6" y2="688.6" stroke="#000" stroke-width="1.46" />
<text x="119.8" y="687.4" font-size="16.9" text-anchor="start" >G1/2</text>
<rect x="250.2" y="668" width="13.6" height="8.2" fill="none" stroke="#000" stroke-width="1.34"/>
<line x1="253" y1="668" x2="253" y2="676.2" stroke="#000" stroke-width="0.9" />
<line x1="261" y1="668" x2="261" y2="676.2" stroke="#000" stroke-width="0.9" />
<line x1="250.2" y1="672" x2="263.8" y2="672" stroke="#000" stroke-width="0.9" />
<path d="M81.25,669.5 L85.25,675 L83.05,675 L83.05,680.8 L79.45,680.8 L79.45,675 L77.25,675 Z" fill="#000"/>
<rect x="76.25" y="684" width="10" height="6.8" fill="none" stroke="#000" stroke-width="1.46"/>
<line x1="75.25" y1="691.3" x2="87.25" y2="691.3" stroke="#000" stroke-width="1.9" />
<line x1="75.25" y1="693.8" x2="87.25" y2="693.8" stroke="#000" stroke-width="1.9" />
<line x1="75.25" y1="691.3" x2="75.25" y2="693.8" stroke="#000" stroke-width="1.12" />
<line x1="87.25" y1="691.3" x2="87.25" y2="693.8" stroke="#000" stroke-width="1.12" />
<line x1="76.25" y1="694.5" x2="76.25" y2="716.3" stroke="#000" stroke-width="1.46" />
<line x1="86.25" y1="694.5" x2="86.25" y2="716.3" stroke="#000" stroke-width="1.46" />
<rect x="74.95" y="695.8" width="12.6" height="5.6" fill="none" stroke="#000" stroke-width="1.46"/>
<line x1="77.65" y1="695.8" x2="77.65" y2="701.4" stroke="#000" stroke-width="1.12" />
<line x1="84.85" y1="695.8" x2="84.85" y2="701.4" stroke="#000" stroke-width="1.12" />
<line x1="76.25" y1="702.3" x2="86.25" y2="702.3" stroke="#000" stroke-width="1.01" />
<line x1="76.25" y1="712.7" x2="86.25" y2="712.7" stroke="#000" stroke-width="1.12" />
<line x1="76.25" y1="714" x2="86.25" y2="714" stroke="#000" stroke-width="1.12" />
<line x1="75.65" y1="716.3" x2="86.85" y2="716.3" stroke="#000" stroke-width="1.34" />
<path d="M237.2,669.3 L241.2,674.8 L239,674.8 L239,680.6 L235.4,680.6 L235.4,674.8 L233.2,674.8 Z" fill="#000"/>
<rect x="232.2" y="683.8" width="10" height="6.8" fill="none" stroke="#000" stroke-width="1.46"/>
<line x1="231.2" y1="691.1" x2="243.2" y2="691.1" stroke="#000" stroke-width="1.9" />
<line x1="231.2" y1="693.6" x2="243.2" y2="693.6" stroke="#000" stroke-width="1.9" />
<line x1="231.2" y1="691.1" x2="231.2" y2="693.6" stroke="#000" stroke-width="1.12" />
<line x1="243.2" y1="691.1" x2="243.2" y2="693.6" stroke="#000" stroke-width="1.12" />
<line x1="232.2" y1="694.3" x2="232.2" y2="715.5" stroke="#000" stroke-width="1.46" />
<line x1="242.2" y1="694.3" x2="242.2" y2="715.5" stroke="#000" stroke-width="1.46" />
<rect x="230.9" y="694.6" width="12.6" height="7.3" fill="none" stroke="#000" stroke-width="1.46"/>
<line x1="233.6" y1="694.6" x2="233.6" y2="701.9" stroke="#000" stroke-width="1.12" />
<line x1="240.8" y1="694.6" x2="240.8" y2="701.9" stroke="#000" stroke-width="1.12" />
<line x1="232.2" y1="702.8" x2="242.2" y2="702.8" stroke="#000" stroke-width="1.01" />
<line x1="232.2" y1="711.9" x2="242.2" y2="711.9" stroke="#000" stroke-width="1.12" />
<line x1="232.2" y1="713.2" x2="242.2" y2="713.2" stroke="#000" stroke-width="1.12" />
<line x1="231.6" y1="715.5" x2="242.8" y2="715.5" stroke="#000" stroke-width="1.34" />
<path d="M230.6,715.5 L231,729.8 Q237.2,733.1 243.4,729.8 L243.8,715.5" fill="none" stroke="#000" stroke-width="1.68" />
<path d="M231.1,716.5 L243.3,718.8 L231.1,721.1 L243.3,723.4 L231.1,725.7 L243.3,728" fill="none" stroke="#000" stroke-width="1.45"/>
<path d="M276.9,669.3 L280.9,674.8 L278.7,674.8 L278.7,680.6 L275.1,680.6 L275.1,674.8 L272.9,674.8 Z" fill="#000"/>
<rect x="271.9" y="683.8" width="10" height="6.8" fill="none" stroke="#000" stroke-width="1.46"/>
<line x1="270.9" y1="691.1" x2="282.9" y2="691.1" stroke="#000" stroke-width="1.9" />
<line x1="270.9" y1="693.6" x2="282.9" y2="693.6" stroke="#000" stroke-width="1.9" />
<line x1="270.9" y1="691.1" x2="270.9" y2="693.6" stroke="#000" stroke-width="1.12" />
<line x1="282.9" y1="691.1" x2="282.9" y2="693.6" stroke="#000" stroke-width="1.12" />
<line x1="271.9" y1="694.3" x2="271.9" y2="720" stroke="#000" stroke-width="1.46" />
<line x1="281.9" y1="694.3" x2="281.9" y2="720" stroke="#000" stroke-width="1.46" />
<rect x="270.6" y="703.4" width="12.6" height="5.5" fill="none" stroke="#000" stroke-width="1.46"/>
<line x1="273.3" y1="703.4" x2="273.3" y2="708.9" stroke="#000" stroke-width="1.12" />
<line x1="280.5" y1="703.4" x2="280.5" y2="708.9" stroke="#000" stroke-width="1.12" />
<line x1="271.9" y1="709.8" x2="281.9" y2="709.8" stroke="#000" stroke-width="1.01" />
<line x1="271.9" y1="716.4" x2="281.9" y2="716.4" stroke="#000" stroke-width="1.12" />
<line x1="271.9" y1="717.7" x2="281.9" y2="717.7" stroke="#000" stroke-width="1.12" />
<line x1="271.3" y1="720" x2="282.5" y2="720" stroke="#000" stroke-width="1.34" />
<path d="M270.3,720 L270.7,737.4 Q276.9,740.7 283.1,737.4 L283.5,720" fill="none" stroke="#000" stroke-width="1.68" />
<path d="M270.8,721 L283,723.3 L270.8,725.6 L283,727.9 L270.8,730.2 L283,732.5 L270.8,734.8 L283,737.1" fill="none" stroke="#000" stroke-width="1.45"/>
<line x1="583.6" y1="417" x2="583.6" y2="663.5" stroke="#000" stroke-width="1.12" />
<path d="M571.7,544.7 L571.7,472.6 A51.8,51.8 0 0 1 665.9,442.9 L700.2,491.5" fill="none" stroke="#000" stroke-width="1.57" />
<path d="M596.0,544.7 L596.0,474.2 A28.9,28.9 0 0 1 647.9,457.6 L681.1,504.9" fill="none" stroke="#000" stroke-width="1.57" />
<line x1="571.7" y1="473.6" x2="596" y2="473.6" stroke="#000" stroke-width="1.23" />
<line x1="571.7" y1="544.7" x2="571.7" y2="577" stroke="#000" stroke-width="1.23" />
<line x1="596" y1="544.7" x2="596" y2="581" stroke="#000" stroke-width="1.23" />
<line x1="647.9" y1="457.6" x2="665.9" y2="442.9" stroke="#000" stroke-width="1.34" />
<line x1="663.5" y1="480" x2="682.58" y2="466.63" stroke="#000" stroke-width="1.34" />
<line x1="680.95" y1="504.9" x2="700.03" y2="491.52" stroke="#000" stroke-width="1.57" />
<path d="M663.84,480.49 L682.93,467.12 L683.73,468.26 L664.65,481.64 Z" fill="#000" stroke="#000" stroke-width="0.56" />
<path d="M665.11,482.29 L684.19,468.92 L685.57,470.88 L666.48,484.26 Z" fill="#000" stroke="#000" stroke-width="0.56" />
<line x1="667.95" y1="484.09" x2="681.15" y2="502.92" stroke="#000" stroke-width="1.12" />
<line x1="684.9" y1="472.2" x2="698.11" y2="491.04" stroke="#000" stroke-width="1.12" />
<line x1="667.06" y1="485.08" x2="686.14" y2="471.7" stroke="#000" stroke-width="1.12" />
<line x1="676.6" y1="478.39" x2="682" y2="486.09" stroke="#000" stroke-width="1.34" />
<path d="M672.45,492.78 L691.54,479.4 L692.34,480.55 L673.26,493.92 Z" fill="#000" stroke="#000" stroke-width="0.56" />
<path d="M673.66,494.5 L692.74,481.12 L693.66,482.43 L674.58,495.81 Z" fill="#000" stroke="#000" stroke-width="0.56" />
<line x1="681.04" y1="502.76" x2="697.99" y2="490.88" stroke="#000" stroke-width="1.12" />
<line x1="670.98" y1="470.11" x2="673.45" y2="473.64" stroke="#000" stroke-width="1.23" />
<path d="M681.3,500.87 L677.45,495.38 L679.83,493.71 L682.3,497.24 L684.51,495.69 L682.04,492.16 L684.5,490.44 L688.34,495.93" fill="none" stroke="#000" stroke-width="2.02" />
<path d="M689,495.47 L685.15,489.98 L687.53,488.32 L690,491.84 L692.21,490.29 L689.74,486.77 L692.2,485.05 L696.04,490.53" fill="none" stroke="#000" stroke-width="2.02" />
<path d="M588.3,433.5 L601.6,364.0 C604.6,365.6 608.6,368.6 609.7,372.6 L600.0,425.8" fill="none" stroke="#000" stroke-width="1.74" />
<line x1="608.9" y1="373.5" x2="599.6" y2="424.8" stroke="#000" stroke-width="2.58" />
<path d="M600.2,375.0 Q604.5,374.0 609.4,375.6" fill="none" stroke="#000" stroke-width="1.23" />
<path d="M602.0,367.6 Q605.6,369.6 606.9,374.6" fill="none" stroke="#000" stroke-width="1.12" />
<line x1="560" y1="545" x2="604.4" y2="545" stroke="#000" stroke-width="1.46" />
<line x1="560" y1="545" x2="560" y2="624.7" stroke="#000" stroke-width="1.46" />
<line x1="604.4" y1="545" x2="604.4" y2="583" stroke="#000" stroke-width="1.46" />
<rect x="604.4" y="583" width="3.2" height="41.7" fill="none" stroke="#000" stroke-width="1.34"/>
<line x1="560" y1="558.4" x2="604.4" y2="558.4" stroke="#000" stroke-width="1.34" />
<line x1="558.2" y1="574.6" x2="576" y2="574.6" stroke="#000" stroke-width="1.23" stroke-dasharray="3.5 1.8"/>
<line x1="576" y1="574.6" x2="604.4" y2="574.6" stroke="#000" stroke-width="1.12" />
<rect x="557.3" y="624.7" width="53" height="4.2" fill="none" stroke="#000" stroke-width="1.46"/>
<path d="M549.7,557 L558.2,574.6" fill="none" stroke="#000" stroke-width="1.46" />
<path d="M560.1,564.8 L583.3,574.3 L602.2,565.6 L596.6,549.5" fill="none" stroke="#000" stroke-width="1.23" />
<path d="M576,545.3 Q581,549.5 592,548.6 Q598.5,550 602.6,556" fill="none" stroke="#000" stroke-width="1.23" />
<path d="M602.6,553 Q606.3,558.5 604.6,566" fill="none" stroke="#000" stroke-width="2.02" />
<circle cx="582" cy="593" r="17.3" fill="none" stroke="#000" stroke-width="1.46"/>
<circle cx="582.1" cy="592.8" r="13.9" fill="none" stroke="#000" stroke-width="1.46"/>
<path d="M572.7,582.3 L578.4,568.5 L586.5,568.5 L595.3,582.3 Z" fill="none" stroke="#000" stroke-width="1.34" />
<line x1="549.7" y1="557" x2="646.7" y2="499.2" stroke="#000" stroke-width="1.68" />
<path d="M592.2,539.6 L629.8,516.9 Q632.5,515.5 631.8,512.5 L630.5,510.8" fill="none" stroke="#000" stroke-width="1.46" />
<line x1="646.7" y1="499.2" x2="638.7" y2="488.4" stroke="#000" stroke-width="1.12" />
<path d="M644.6,496.4 L639.83,492.47 L642.24,490.68 Z" fill="#000" stroke="none"/>
<path d="M572.4,544.3 L659.4,535.1" fill="none" stroke="#000" stroke-width="1.68" />
<path d="M605.7,545.8 L650.5,541.6 Q653.2,541.3 653.2,538.5 L653.2,536.5" fill="none" stroke="#000" stroke-width="1.46" />
<path d="M605.7,545.8 Q603.5,548 604.4,552" fill="none" stroke="#000" stroke-width="1.34" />
<line x1="659.4" y1="535.1" x2="659.4" y2="549.2" stroke="#000" stroke-width="1.12" />
<path d="M659.4,536.5 L660.5,542.5 L658.3,542.5 Z" fill="#000" stroke="none"/>
<path d="M568.5,545 L569.5,526 Q570.5,524 571.2,526 L571.2,545" fill="none" stroke="#000" stroke-width="1.12" />
<path d="M584.2,502.5 Q625,500.5 662.3,482.3" fill="none" stroke="#000" stroke-width="1.12" />
<path d="M584.2,502.5 L591.17,501.16 L591.22,503.56 Z" fill="#000" stroke="none"/>
<text x="625.2" y="496" font-size="16.8" text-anchor="middle" transform="rotate(-12 625.2 496)" >35</text>
<circle cx="636" cy="482.8" r="2.2" fill="none" stroke="#000" stroke-width="1.01"/>
<text x="654.5" y="513.5" font-size="16.5" text-anchor="middle" transform="rotate(68 654.5 513.5)" >25</text>
<circle cx="668.5" cy="522.5" r="2.1" fill="none" stroke="#000" stroke-width="1.01"/>
<line x1="690.6" y1="498.3" x2="690.6" y2="589.2" stroke="#000" stroke-width="1.12" />
<line x1="584" y1="588.9" x2="690.6" y2="588.9" stroke="#000" stroke-width="1.12" />
<path d="M584.2,588.9 L592.2,587.6 L592.2,590.2 Z" fill="#000" stroke="none"/>
<path d="M690.4,588.9 L682.4,590.2 L682.4,587.6 Z" fill="#000" stroke="none"/>
<text x="641.4" y="587.8" font-size="16.8" text-anchor="middle" >106</text>
<line x1="691" y1="498.8" x2="695" y2="503.8" stroke="#000" stroke-width="1.12" />
<path d="M691,498.8 L695.05,501.97 L693.17,503.46 Z" fill="#000" stroke="none"/>
<line x1="690.6" y1="498.3" x2="715.5" y2="498.3" stroke="#000" stroke-width="1.12" />
<line x1="713.7" y1="498.3" x2="713.7" y2="628.9" stroke="#000" stroke-width="1.12" />
<path d="M713.7,498.3 L715,506.3 L712.4,506.3 Z" fill="#000" stroke="none"/>
<path d="M713.7,628.9 L712.4,620.9 L715,620.9 Z" fill="#000" stroke="none"/>
<text x="713.4" y="553.5" font-size="17.4" text-anchor="middle" transform="rotate(-90 713.4 553.5)" >129</text></svg>
</body></html>
